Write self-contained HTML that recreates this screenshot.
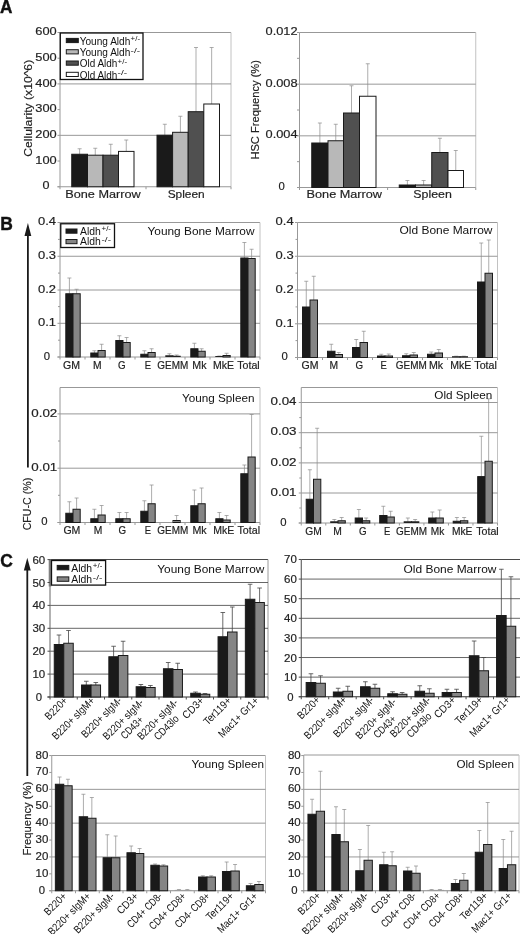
<!DOCTYPE html>
<html><head><meta charset="utf-8"><title>Figure</title>
<style>html,body{margin:0;padding:0;background:#fff;}svg{display:block;will-change:transform;}text{font-family:"Liberation Sans",sans-serif;}</style>
</head><body>
<svg width="520" height="934" viewBox="0 0 520 934">
<rect x="0" y="0" width="520" height="934" fill="#ffffff"/>
<text x="0.00" y="12.80" font-size="18" text-anchor="start" font-weight="bold" fill="#111" textLength="12.40" lengthAdjust="spacingAndGlyphs"  stroke="#111" stroke-width="0.4">A</text>
<text x="0.30" y="229.60" font-size="18" text-anchor="start" font-weight="bold" fill="#111" textLength="12.60" lengthAdjust="spacingAndGlyphs"  stroke="#111" stroke-width="0.4">B</text>
<text x="0.20" y="567.00" font-size="18" text-anchor="start" font-weight="bold" fill="#111" textLength="12.60" lengthAdjust="spacingAndGlyphs"  stroke="#111" stroke-width="0.4">C</text>
<line x1="60.00" y1="32.50" x2="231.00" y2="32.50" stroke="#989898" stroke-width="1" />
<line x1="231.00" y1="32.50" x2="231.00" y2="186.75" stroke="#c2c2c2" stroke-width="1" />
<line x1="60.00" y1="83.92" x2="231.00" y2="83.92" stroke="#989898" stroke-width="1" />
<line x1="60.00" y1="135.33" x2="231.00" y2="135.33" stroke="#989898" stroke-width="1" />
<line x1="60.00" y1="32.50" x2="60.00" y2="186.75" stroke="#989898" stroke-width="1" />
<line x1="57.50" y1="186.75" x2="231.00" y2="186.75" stroke="#989898" stroke-width="1" />
<line x1="57.50" y1="186.75" x2="60.00" y2="186.75" stroke="#989898" stroke-width="1" />
<text x="46.00" y="189.35" font-size="11" text-anchor="middle" font-weight="normal" fill="#222" textLength="7.00" lengthAdjust="spacingAndGlyphs"  stroke="#222" stroke-width="0.18">0</text>
<line x1="57.50" y1="161.04" x2="60.00" y2="161.04" stroke="#989898" stroke-width="1" />
<text x="46.00" y="163.64" font-size="11" text-anchor="middle" font-weight="normal" fill="#222" textLength="21.40" lengthAdjust="spacingAndGlyphs"  stroke="#222" stroke-width="0.18">100</text>
<line x1="57.50" y1="135.33" x2="60.00" y2="135.33" stroke="#989898" stroke-width="1" />
<text x="46.00" y="137.93" font-size="11" text-anchor="middle" font-weight="normal" fill="#222" textLength="21.40" lengthAdjust="spacingAndGlyphs"  stroke="#222" stroke-width="0.18">200</text>
<line x1="57.50" y1="109.62" x2="60.00" y2="109.62" stroke="#989898" stroke-width="1" />
<text x="46.00" y="112.22" font-size="11" text-anchor="middle" font-weight="normal" fill="#222" textLength="21.40" lengthAdjust="spacingAndGlyphs"  stroke="#222" stroke-width="0.18">300</text>
<line x1="57.50" y1="83.92" x2="60.00" y2="83.92" stroke="#989898" stroke-width="1" />
<text x="46.00" y="86.52" font-size="11" text-anchor="middle" font-weight="normal" fill="#222" textLength="21.40" lengthAdjust="spacingAndGlyphs"  stroke="#222" stroke-width="0.18">400</text>
<line x1="57.50" y1="58.21" x2="60.00" y2="58.21" stroke="#989898" stroke-width="1" />
<text x="46.00" y="60.81" font-size="11" text-anchor="middle" font-weight="normal" fill="#222" textLength="21.40" lengthAdjust="spacingAndGlyphs"  stroke="#222" stroke-width="0.18">500</text>
<line x1="57.50" y1="32.50" x2="60.00" y2="32.50" stroke="#989898" stroke-width="1" />
<text x="46.00" y="35.10" font-size="11" text-anchor="middle" font-weight="normal" fill="#222" textLength="21.40" lengthAdjust="spacingAndGlyphs"  stroke="#222" stroke-width="0.18">600</text>
<line x1="60.00" y1="186.75" x2="60.00" y2="189.25" stroke="#989898" stroke-width="1" />
<line x1="146.00" y1="186.75" x2="146.00" y2="189.25" stroke="#989898" stroke-width="1" />
<line x1="231.00" y1="186.75" x2="231.00" y2="189.25" stroke="#989898" stroke-width="1" />
<line x1="79.62" y1="148.75" x2="79.62" y2="154.25" stroke="#8a8a8a" stroke-width="0.7" />
<line x1="77.62" y1="148.75" x2="81.62" y2="148.75" stroke="#8a8a8a" stroke-width="0.7" />
<rect x="71.75" y="154.25" width="15.75" height="32.50" fill="#1a1a1a" stroke="#1a1a1a" stroke-width="1.0"/>
<line x1="95.25" y1="148.25" x2="95.25" y2="155.20" stroke="#8a8a8a" stroke-width="0.7" />
<line x1="93.25" y1="148.25" x2="97.25" y2="148.25" stroke="#8a8a8a" stroke-width="0.7" />
<rect x="87.50" y="155.20" width="15.50" height="31.55" fill="#b8b8b8" stroke="#1a1a1a" stroke-width="1.0"/>
<line x1="110.75" y1="144.25" x2="110.75" y2="155.20" stroke="#8a8a8a" stroke-width="0.7" />
<line x1="108.75" y1="144.25" x2="112.75" y2="144.25" stroke="#8a8a8a" stroke-width="0.7" />
<rect x="103.00" y="155.20" width="15.50" height="31.55" fill="#505050" stroke="#1a1a1a" stroke-width="1.0"/>
<line x1="126.25" y1="140.00" x2="126.25" y2="151.40" stroke="#8a8a8a" stroke-width="0.7" />
<line x1="124.25" y1="140.00" x2="128.25" y2="140.00" stroke="#8a8a8a" stroke-width="0.7" />
<rect x="118.50" y="151.40" width="15.50" height="35.35" fill="#ffffff" stroke="#1a1a1a" stroke-width="1.0"/>
<line x1="164.80" y1="124.25" x2="164.80" y2="135.20" stroke="#8a8a8a" stroke-width="0.7" />
<line x1="162.80" y1="124.25" x2="166.80" y2="124.25" stroke="#8a8a8a" stroke-width="0.7" />
<rect x="157.00" y="135.20" width="15.60" height="51.55" fill="#1a1a1a" stroke="#1a1a1a" stroke-width="1.0"/>
<line x1="180.40" y1="116.25" x2="180.40" y2="132.30" stroke="#8a8a8a" stroke-width="0.7" />
<line x1="178.40" y1="116.25" x2="182.40" y2="116.25" stroke="#8a8a8a" stroke-width="0.7" />
<rect x="172.60" y="132.30" width="15.60" height="54.45" fill="#b8b8b8" stroke="#1a1a1a" stroke-width="1.0"/>
<line x1="196.00" y1="47.50" x2="196.00" y2="111.70" stroke="#8a8a8a" stroke-width="0.7" />
<line x1="194.00" y1="47.50" x2="198.00" y2="47.50" stroke="#8a8a8a" stroke-width="0.7" />
<rect x="188.20" y="111.70" width="15.60" height="75.05" fill="#505050" stroke="#1a1a1a" stroke-width="1.0"/>
<line x1="211.65" y1="47.50" x2="211.65" y2="104.00" stroke="#8a8a8a" stroke-width="0.7" />
<line x1="209.65" y1="47.50" x2="213.65" y2="47.50" stroke="#8a8a8a" stroke-width="0.7" />
<rect x="203.80" y="104.00" width="15.70" height="82.75" fill="#ffffff" stroke="#1a1a1a" stroke-width="1.0"/>
<text x="103.00" y="198.00" font-size="11.4" text-anchor="middle" font-weight="normal" fill="#222" textLength="75.50" lengthAdjust="spacingAndGlyphs"  stroke="#222" stroke-width="0.18">Bone Marrow</text>
<text x="186.20" y="198.00" font-size="11.4" text-anchor="middle" font-weight="normal" fill="#222" textLength="37.00" lengthAdjust="spacingAndGlyphs"  stroke="#222" stroke-width="0.18">Spleen</text>
<text x="31.60" y="156.80" font-size="11.8" text-anchor="start" font-weight="normal" fill="#222" textLength="97.00" lengthAdjust="spacingAndGlyphs" transform="rotate(-90 31.60 156.80)"  stroke="#222" stroke-width="0.18">Cellularity (x10^6)</text>
<rect x="60.30" y="33.00" width="82.70" height="46.50" fill="#ffffff" stroke="#111" stroke-width="1.3"/>
<rect x="66.30" y="38.40" width="12.00" height="4.20" fill="#1a1a1a" stroke="#1a1a1a" stroke-width="1"/>
<text x="79.70" y="44.70" font-size="10.4" text-anchor="start" font-weight="normal" fill="#111" textLength="50.60" lengthAdjust="spacingAndGlyphs" >Young Aldh</text>
<text x="130.60" y="41.30" font-size="6.5" text-anchor="start" font-weight="normal" fill="#111" textLength="9.50" lengthAdjust="spacingAndGlyphs" >+/-</text>
<rect x="66.30" y="49.70" width="12.00" height="4.20" fill="#b8b8b8" stroke="#1a1a1a" stroke-width="1"/>
<text x="79.70" y="56.00" font-size="10.4" text-anchor="start" font-weight="normal" fill="#111" textLength="50.60" lengthAdjust="spacingAndGlyphs" >Young Aldh</text>
<text x="130.60" y="52.60" font-size="6.5" text-anchor="start" font-weight="normal" fill="#111" textLength="9.50" lengthAdjust="spacingAndGlyphs" >-/-</text>
<rect x="66.30" y="61.00" width="12.00" height="4.20" fill="#505050" stroke="#1a1a1a" stroke-width="1"/>
<text x="79.70" y="67.30" font-size="10.4" text-anchor="start" font-weight="normal" fill="#111" textLength="37.60" lengthAdjust="spacingAndGlyphs" >Old Aldh</text>
<text x="117.60" y="63.90" font-size="6.5" text-anchor="start" font-weight="normal" fill="#111" textLength="9.50" lengthAdjust="spacingAndGlyphs" >+/-</text>
<rect x="66.30" y="72.30" width="12.00" height="4.20" fill="#ffffff" stroke="#1a1a1a" stroke-width="1"/>
<text x="79.70" y="78.60" font-size="10.4" text-anchor="start" font-weight="normal" fill="#111" textLength="37.60" lengthAdjust="spacingAndGlyphs" >Old Aldh</text>
<text x="117.60" y="75.20" font-size="6.5" text-anchor="start" font-weight="normal" fill="#111" textLength="9.50" lengthAdjust="spacingAndGlyphs" >-/-</text>
<line x1="299.50" y1="32.50" x2="475.75" y2="32.50" stroke="#989898" stroke-width="1" />
<line x1="475.75" y1="32.50" x2="475.75" y2="187.50" stroke="#c2c2c2" stroke-width="1" />
<line x1="299.50" y1="84.17" x2="475.75" y2="84.17" stroke="#989898" stroke-width="1" />
<line x1="299.50" y1="135.83" x2="475.75" y2="135.83" stroke="#989898" stroke-width="1" />
<line x1="299.50" y1="32.50" x2="299.50" y2="187.50" stroke="#989898" stroke-width="1" />
<line x1="297.00" y1="187.50" x2="475.75" y2="187.50" stroke="#989898" stroke-width="1" />
<line x1="297.00" y1="187.50" x2="299.50" y2="187.50" stroke="#989898" stroke-width="1" />
<line x1="297.00" y1="161.67" x2="299.50" y2="161.67" stroke="#989898" stroke-width="1" />
<line x1="297.00" y1="135.83" x2="299.50" y2="135.83" stroke="#989898" stroke-width="1" />
<line x1="297.00" y1="110.00" x2="299.50" y2="110.00" stroke="#989898" stroke-width="1" />
<line x1="297.00" y1="84.17" x2="299.50" y2="84.17" stroke="#989898" stroke-width="1" />
<line x1="297.00" y1="58.33" x2="299.50" y2="58.33" stroke="#989898" stroke-width="1" />
<line x1="297.00" y1="32.50" x2="299.50" y2="32.50" stroke="#989898" stroke-width="1" />
<text x="281.60" y="35.10" font-size="11" text-anchor="middle" font-weight="normal" fill="#222" textLength="32.00" lengthAdjust="spacingAndGlyphs"  stroke="#222" stroke-width="0.18">0.012</text>
<text x="281.60" y="86.77" font-size="11" text-anchor="middle" font-weight="normal" fill="#222" textLength="32.00" lengthAdjust="spacingAndGlyphs"  stroke="#222" stroke-width="0.18">0.008</text>
<text x="281.60" y="138.43" font-size="11" text-anchor="middle" font-weight="normal" fill="#222" textLength="32.00" lengthAdjust="spacingAndGlyphs"  stroke="#222" stroke-width="0.18">0.004</text>
<text x="281.60" y="190.10" font-size="11" text-anchor="middle" font-weight="normal" fill="#222" textLength="6.30" lengthAdjust="spacingAndGlyphs"  stroke="#222" stroke-width="0.18">0</text>
<line x1="299.50" y1="187.50" x2="299.50" y2="190.00" stroke="#989898" stroke-width="1" />
<line x1="387.60" y1="187.50" x2="387.60" y2="190.00" stroke="#989898" stroke-width="1" />
<line x1="475.75" y1="187.50" x2="475.75" y2="190.00" stroke="#989898" stroke-width="1" />
<line x1="319.88" y1="123.00" x2="319.88" y2="143.00" stroke="#8a8a8a" stroke-width="0.7" />
<line x1="317.88" y1="123.00" x2="321.88" y2="123.00" stroke="#8a8a8a" stroke-width="0.7" />
<rect x="311.75" y="143.00" width="16.25" height="44.50" fill="#1a1a1a" stroke="#1a1a1a" stroke-width="1.0"/>
<line x1="335.75" y1="124.25" x2="335.75" y2="140.75" stroke="#8a8a8a" stroke-width="0.7" />
<line x1="333.75" y1="124.25" x2="337.75" y2="124.25" stroke="#8a8a8a" stroke-width="0.7" />
<rect x="328.00" y="140.75" width="15.50" height="46.75" fill="#b8b8b8" stroke="#1a1a1a" stroke-width="1.0"/>
<line x1="351.50" y1="85.75" x2="351.50" y2="113.00" stroke="#8a8a8a" stroke-width="0.7" />
<line x1="349.50" y1="85.75" x2="353.50" y2="85.75" stroke="#8a8a8a" stroke-width="0.7" />
<rect x="343.50" y="113.00" width="16.00" height="74.50" fill="#505050" stroke="#1a1a1a" stroke-width="1.0"/>
<line x1="367.75" y1="63.75" x2="367.75" y2="96.25" stroke="#8a8a8a" stroke-width="0.7" />
<line x1="365.75" y1="63.75" x2="369.75" y2="63.75" stroke="#8a8a8a" stroke-width="0.7" />
<rect x="359.50" y="96.25" width="16.50" height="91.25" fill="#ffffff" stroke="#1a1a1a" stroke-width="1.0"/>
<line x1="407.38" y1="180.50" x2="407.38" y2="185.00" stroke="#8a8a8a" stroke-width="0.7" />
<line x1="405.38" y1="180.50" x2="409.38" y2="180.50" stroke="#8a8a8a" stroke-width="0.7" />
<rect x="399.25" y="185.00" width="16.25" height="2.50" fill="#1a1a1a" stroke="#1a1a1a" stroke-width="1.0"/>
<line x1="423.62" y1="180.50" x2="423.62" y2="185.00" stroke="#8a8a8a" stroke-width="0.7" />
<line x1="421.62" y1="180.50" x2="425.62" y2="180.50" stroke="#8a8a8a" stroke-width="0.7" />
<rect x="415.50" y="185.00" width="16.25" height="2.50" fill="#b8b8b8" stroke="#1a1a1a" stroke-width="1.0"/>
<line x1="439.88" y1="138.25" x2="439.88" y2="152.50" stroke="#8a8a8a" stroke-width="0.7" />
<line x1="437.88" y1="138.25" x2="441.88" y2="138.25" stroke="#8a8a8a" stroke-width="0.7" />
<rect x="431.75" y="152.50" width="16.25" height="35.00" fill="#505050" stroke="#1a1a1a" stroke-width="1.0"/>
<line x1="455.75" y1="150.50" x2="455.75" y2="170.50" stroke="#8a8a8a" stroke-width="0.7" />
<line x1="453.75" y1="150.50" x2="457.75" y2="150.50" stroke="#8a8a8a" stroke-width="0.7" />
<rect x="448.00" y="170.50" width="15.50" height="17.00" fill="#ffffff" stroke="#1a1a1a" stroke-width="1.0"/>
<text x="344.30" y="198.30" font-size="11.4" text-anchor="middle" font-weight="normal" fill="#222" textLength="75.50" lengthAdjust="spacingAndGlyphs"  stroke="#222" stroke-width="0.18">Bone Marrow</text>
<text x="432.60" y="198.30" font-size="11.4" text-anchor="middle" font-weight="normal" fill="#222" textLength="38.50" lengthAdjust="spacingAndGlyphs"  stroke="#222" stroke-width="0.18">Spleen</text>
<text x="258.80" y="159.60" font-size="11.8" text-anchor="start" font-weight="normal" fill="#222" textLength="99.50" lengthAdjust="spacingAndGlyphs" transform="rotate(-90 258.80 159.60)"  stroke="#222" stroke-width="0.18">HSC Frequency (%)</text>
<line x1="60.00" y1="222.50" x2="260.00" y2="222.50" stroke="#989898" stroke-width="1" />
<line x1="260.00" y1="222.50" x2="260.00" y2="357.00" stroke="#c2c2c2" stroke-width="1" />
<line x1="60.00" y1="256.25" x2="260.00" y2="256.25" stroke="#989898" stroke-width="1" />
<line x1="60.00" y1="290.00" x2="260.00" y2="290.00" stroke="#989898" stroke-width="1" />
<line x1="60.00" y1="323.30" x2="260.00" y2="323.30" stroke="#989898" stroke-width="1" />
<line x1="60.00" y1="222.50" x2="60.00" y2="357.00" stroke="#989898" stroke-width="1" />
<line x1="57.50" y1="357.00" x2="260.00" y2="357.00" stroke="#989898" stroke-width="1" />
<line x1="57.50" y1="222.50" x2="60.00" y2="222.50" stroke="#989898" stroke-width="1" />
<text x="47.00" y="225.20" font-size="11" text-anchor="middle" font-weight="normal" fill="#222" textLength="18.00" lengthAdjust="spacingAndGlyphs"  stroke="#222" stroke-width="0.18">0.4</text>
<line x1="57.50" y1="256.25" x2="60.00" y2="256.25" stroke="#989898" stroke-width="1" />
<text x="47.00" y="258.95" font-size="11" text-anchor="middle" font-weight="normal" fill="#222" textLength="18.00" lengthAdjust="spacingAndGlyphs"  stroke="#222" stroke-width="0.18">0.3</text>
<line x1="57.50" y1="290.00" x2="60.00" y2="290.00" stroke="#989898" stroke-width="1" />
<text x="47.00" y="292.70" font-size="11" text-anchor="middle" font-weight="normal" fill="#222" textLength="18.00" lengthAdjust="spacingAndGlyphs"  stroke="#222" stroke-width="0.18">0.2</text>
<line x1="57.50" y1="323.30" x2="60.00" y2="323.30" stroke="#989898" stroke-width="1" />
<text x="47.00" y="326.00" font-size="11" text-anchor="middle" font-weight="normal" fill="#222" textLength="18.00" lengthAdjust="spacingAndGlyphs"  stroke="#222" stroke-width="0.18">0.1</text>
<line x1="57.50" y1="357.00" x2="60.00" y2="357.00" stroke="#989898" stroke-width="1" />
<text x="47.00" y="359.70" font-size="11" text-anchor="middle" font-weight="normal" fill="#222" textLength="6.30" lengthAdjust="spacingAndGlyphs"  stroke="#222" stroke-width="0.18">0</text>
<line x1="58.00" y1="239.40" x2="60.00" y2="239.40" stroke="#989898" stroke-width="1" />
<line x1="58.00" y1="273.10" x2="60.00" y2="273.10" stroke="#989898" stroke-width="1" />
<line x1="58.00" y1="306.60" x2="60.00" y2="306.60" stroke="#989898" stroke-width="1" />
<line x1="58.00" y1="340.20" x2="60.00" y2="340.20" stroke="#989898" stroke-width="1" />
<line x1="60.00" y1="357.00" x2="60.00" y2="359.50" stroke="#989898" stroke-width="1" />
<line x1="85.00" y1="357.00" x2="85.00" y2="359.50" stroke="#989898" stroke-width="1" />
<line x1="110.00" y1="357.00" x2="110.00" y2="359.50" stroke="#989898" stroke-width="1" />
<line x1="135.00" y1="357.00" x2="135.00" y2="359.50" stroke="#989898" stroke-width="1" />
<line x1="160.00" y1="357.00" x2="160.00" y2="359.50" stroke="#989898" stroke-width="1" />
<line x1="185.00" y1="357.00" x2="185.00" y2="359.50" stroke="#989898" stroke-width="1" />
<line x1="210.00" y1="357.00" x2="210.00" y2="359.50" stroke="#989898" stroke-width="1" />
<line x1="235.00" y1="357.00" x2="235.00" y2="359.50" stroke="#989898" stroke-width="1" />
<line x1="260.00" y1="357.00" x2="260.00" y2="359.50" stroke="#989898" stroke-width="1" />
<line x1="69.40" y1="278.00" x2="69.40" y2="293.75" stroke="#8a8a8a" stroke-width="0.7" />
<line x1="67.40" y1="278.00" x2="71.40" y2="278.00" stroke="#8a8a8a" stroke-width="0.7" />
<rect x="65.80" y="293.75" width="7.20" height="63.25" fill="#1a1a1a" stroke="#1a1a1a" stroke-width="1.0"/>
<line x1="76.60" y1="289.25" x2="76.60" y2="293.75" stroke="#8a8a8a" stroke-width="0.7" />
<line x1="74.60" y1="289.25" x2="78.60" y2="289.25" stroke="#8a8a8a" stroke-width="0.7" />
<rect x="73.00" y="293.75" width="7.20" height="63.25" fill="#858585" stroke="#1a1a1a" stroke-width="1.0"/>
<line x1="94.40" y1="350.75" x2="94.40" y2="353.00" stroke="#8a8a8a" stroke-width="0.7" />
<line x1="92.40" y1="350.75" x2="96.40" y2="350.75" stroke="#8a8a8a" stroke-width="0.7" />
<rect x="90.80" y="353.00" width="7.20" height="4.00" fill="#1a1a1a" stroke="#1a1a1a" stroke-width="1.0"/>
<line x1="101.60" y1="344.25" x2="101.60" y2="350.50" stroke="#8a8a8a" stroke-width="0.7" />
<line x1="99.60" y1="344.25" x2="103.60" y2="344.25" stroke="#8a8a8a" stroke-width="0.7" />
<rect x="98.00" y="350.50" width="7.20" height="6.50" fill="#858585" stroke="#1a1a1a" stroke-width="1.0"/>
<line x1="119.40" y1="335.75" x2="119.40" y2="340.50" stroke="#8a8a8a" stroke-width="0.7" />
<line x1="117.40" y1="335.75" x2="121.40" y2="335.75" stroke="#8a8a8a" stroke-width="0.7" />
<rect x="115.80" y="340.50" width="7.20" height="16.50" fill="#1a1a1a" stroke="#1a1a1a" stroke-width="1.0"/>
<line x1="126.60" y1="337.50" x2="126.60" y2="342.50" stroke="#8a8a8a" stroke-width="0.7" />
<line x1="124.60" y1="337.50" x2="128.60" y2="337.50" stroke="#8a8a8a" stroke-width="0.7" />
<rect x="123.00" y="342.50" width="7.20" height="14.50" fill="#858585" stroke="#1a1a1a" stroke-width="1.0"/>
<line x1="144.40" y1="350.75" x2="144.40" y2="354.25" stroke="#8a8a8a" stroke-width="0.7" />
<line x1="142.40" y1="350.75" x2="146.40" y2="350.75" stroke="#8a8a8a" stroke-width="0.7" />
<rect x="140.80" y="354.25" width="7.20" height="2.75" fill="#1a1a1a" stroke="#1a1a1a" stroke-width="1.0"/>
<line x1="151.60" y1="348.75" x2="151.60" y2="352.50" stroke="#8a8a8a" stroke-width="0.7" />
<line x1="149.60" y1="348.75" x2="153.60" y2="348.75" stroke="#8a8a8a" stroke-width="0.7" />
<rect x="148.00" y="352.50" width="7.20" height="4.50" fill="#858585" stroke="#1a1a1a" stroke-width="1.0"/>
<line x1="169.40" y1="353.75" x2="169.40" y2="355.75" stroke="#8a8a8a" stroke-width="0.7" />
<line x1="167.40" y1="353.75" x2="171.40" y2="353.75" stroke="#8a8a8a" stroke-width="0.7" />
<rect x="165.30" y="355.25" width="8.20" height="1.75" fill="#222"/>
<line x1="176.60" y1="355.00" x2="176.60" y2="356.25" stroke="#8a8a8a" stroke-width="0.7" />
<line x1="174.60" y1="355.00" x2="178.60" y2="355.00" stroke="#8a8a8a" stroke-width="0.7" />
<rect x="172.50" y="355.75" width="8.20" height="1.25" fill="#222"/>
<line x1="194.40" y1="343.25" x2="194.40" y2="348.75" stroke="#8a8a8a" stroke-width="0.7" />
<line x1="192.40" y1="343.25" x2="196.40" y2="343.25" stroke="#8a8a8a" stroke-width="0.7" />
<rect x="190.80" y="348.75" width="7.20" height="8.25" fill="#1a1a1a" stroke="#1a1a1a" stroke-width="1.0"/>
<line x1="201.60" y1="348.75" x2="201.60" y2="351.25" stroke="#8a8a8a" stroke-width="0.7" />
<line x1="199.60" y1="348.75" x2="203.60" y2="348.75" stroke="#8a8a8a" stroke-width="0.7" />
<rect x="198.00" y="351.25" width="7.20" height="5.75" fill="#858585" stroke="#1a1a1a" stroke-width="1.0"/>
<line x1="219.40" y1="356.00" x2="219.40" y2="356.50" stroke="#8a8a8a" stroke-width="0.7" />
<line x1="217.40" y1="356.00" x2="221.40" y2="356.00" stroke="#8a8a8a" stroke-width="0.7" />
<rect x="215.30" y="356.00" width="8.20" height="1.00" fill="#222"/>
<line x1="226.60" y1="353.25" x2="226.60" y2="355.50" stroke="#8a8a8a" stroke-width="0.7" />
<line x1="224.60" y1="353.25" x2="228.60" y2="353.25" stroke="#8a8a8a" stroke-width="0.7" />
<rect x="223.00" y="355.50" width="7.20" height="1.50" fill="#858585" stroke="#1a1a1a" stroke-width="1.0"/>
<line x1="244.40" y1="242.50" x2="244.40" y2="258.00" stroke="#8a8a8a" stroke-width="0.7" />
<line x1="242.40" y1="242.50" x2="246.40" y2="242.50" stroke="#8a8a8a" stroke-width="0.7" />
<rect x="240.80" y="258.00" width="7.20" height="99.00" fill="#1a1a1a" stroke="#1a1a1a" stroke-width="1.0"/>
<line x1="251.60" y1="249.25" x2="251.60" y2="258.50" stroke="#8a8a8a" stroke-width="0.7" />
<line x1="249.60" y1="249.25" x2="253.60" y2="249.25" stroke="#8a8a8a" stroke-width="0.7" />
<rect x="248.00" y="258.50" width="7.20" height="98.50" fill="#858585" stroke="#1a1a1a" stroke-width="1.0"/>
<text x="71.50" y="368.60" font-size="10.2" text-anchor="middle" font-weight="normal" fill="#222" textLength="17.00" lengthAdjust="spacingAndGlyphs"  stroke="#222" stroke-width="0.18">GM</text>
<text x="97.30" y="368.60" font-size="10.2" text-anchor="middle" font-weight="normal" fill="#222" textLength="8.60" lengthAdjust="spacingAndGlyphs"  stroke="#222" stroke-width="0.18">M</text>
<text x="121.70" y="368.60" font-size="10.2" text-anchor="middle" font-weight="normal" fill="#222" textLength="7.60" lengthAdjust="spacingAndGlyphs"  stroke="#222" stroke-width="0.18">G</text>
<text x="147.80" y="368.60" font-size="10.2" text-anchor="middle" font-weight="normal" fill="#222" textLength="6.30" lengthAdjust="spacingAndGlyphs"  stroke="#222" stroke-width="0.18">E</text>
<text x="172.80" y="368.60" font-size="10.2" text-anchor="middle" font-weight="normal" fill="#222" textLength="31.00" lengthAdjust="spacingAndGlyphs"  stroke="#222" stroke-width="0.18">GEMM</text>
<text x="199.40" y="368.60" font-size="10.2" text-anchor="middle" font-weight="normal" fill="#222" textLength="14.20" lengthAdjust="spacingAndGlyphs"  stroke="#222" stroke-width="0.18">Mk</text>
<text x="223.50" y="368.60" font-size="10.2" text-anchor="middle" font-weight="normal" fill="#222" textLength="21.00" lengthAdjust="spacingAndGlyphs"  stroke="#222" stroke-width="0.18">MkE</text>
<text x="248.50" y="368.60" font-size="10.2" text-anchor="middle" font-weight="normal" fill="#222" textLength="22.50" lengthAdjust="spacingAndGlyphs"  stroke="#222" stroke-width="0.18">Total</text>
<text x="254.50" y="234.50" font-size="11.5" text-anchor="end" font-weight="normal" fill="#111" textLength="107.00" lengthAdjust="spacingAndGlyphs" >Young Bone Marrow</text>
<rect x="60.75" y="223.75" width="53.75" height="23.75" fill="#ffffff" stroke="#111" stroke-width="1.3"/>
<rect x="66.00" y="229.00" width="11.00" height="4.20" fill="#1a1a1a" stroke="#1a1a1a" stroke-width="1"/>
<rect x="66.00" y="239.50" width="11.00" height="4.20" fill="#858585" stroke="#1a1a1a" stroke-width="1"/>
<text x="80.00" y="234.60" font-size="10.4" text-anchor="start" font-weight="normal" fill="#111" textLength="20.80" lengthAdjust="spacingAndGlyphs" >Aldh</text>
<text x="101.50" y="231.20" font-size="6.5" text-anchor="start" font-weight="normal" fill="#111" textLength="9.50" lengthAdjust="spacingAndGlyphs" >+/-</text>
<text x="80.00" y="245.10" font-size="10.4" text-anchor="start" font-weight="normal" fill="#111" textLength="20.80" lengthAdjust="spacingAndGlyphs" >Aldh</text>
<text x="101.50" y="241.70" font-size="6.5" text-anchor="start" font-weight="normal" fill="#111" textLength="9.50" lengthAdjust="spacingAndGlyphs" >-/-</text>
<line x1="297.50" y1="222.50" x2="497.50" y2="222.50" stroke="#989898" stroke-width="1" />
<line x1="497.50" y1="222.50" x2="497.50" y2="357.50" stroke="#c2c2c2" stroke-width="1" />
<line x1="297.50" y1="256.25" x2="497.50" y2="256.25" stroke="#989898" stroke-width="1" />
<line x1="297.50" y1="290.00" x2="497.50" y2="290.00" stroke="#989898" stroke-width="1" />
<line x1="297.50" y1="323.80" x2="497.50" y2="323.80" stroke="#989898" stroke-width="1" />
<line x1="297.50" y1="222.50" x2="297.50" y2="357.50" stroke="#989898" stroke-width="1" />
<line x1="295.00" y1="357.50" x2="497.50" y2="357.50" stroke="#989898" stroke-width="1" />
<line x1="295.00" y1="222.50" x2="297.50" y2="222.50" stroke="#989898" stroke-width="1" />
<text x="284.60" y="225.20" font-size="11" text-anchor="middle" font-weight="normal" fill="#222" textLength="18.00" lengthAdjust="spacingAndGlyphs"  stroke="#222" stroke-width="0.18">0.4</text>
<line x1="295.00" y1="256.25" x2="297.50" y2="256.25" stroke="#989898" stroke-width="1" />
<text x="284.60" y="258.95" font-size="11" text-anchor="middle" font-weight="normal" fill="#222" textLength="18.00" lengthAdjust="spacingAndGlyphs"  stroke="#222" stroke-width="0.18">0.3</text>
<line x1="295.00" y1="290.00" x2="297.50" y2="290.00" stroke="#989898" stroke-width="1" />
<text x="284.60" y="292.70" font-size="11" text-anchor="middle" font-weight="normal" fill="#222" textLength="18.00" lengthAdjust="spacingAndGlyphs"  stroke="#222" stroke-width="0.18">0.2</text>
<line x1="295.00" y1="323.80" x2="297.50" y2="323.80" stroke="#989898" stroke-width="1" />
<text x="284.60" y="326.50" font-size="11" text-anchor="middle" font-weight="normal" fill="#222" textLength="18.00" lengthAdjust="spacingAndGlyphs"  stroke="#222" stroke-width="0.18">0.1</text>
<line x1="295.00" y1="357.50" x2="297.50" y2="357.50" stroke="#989898" stroke-width="1" />
<text x="284.60" y="360.20" font-size="11" text-anchor="middle" font-weight="normal" fill="#222" textLength="6.30" lengthAdjust="spacingAndGlyphs"  stroke="#222" stroke-width="0.18">0</text>
<line x1="295.50" y1="239.40" x2="297.50" y2="239.40" stroke="#989898" stroke-width="1" />
<line x1="295.50" y1="273.10" x2="297.50" y2="273.10" stroke="#989898" stroke-width="1" />
<line x1="295.50" y1="306.90" x2="297.50" y2="306.90" stroke="#989898" stroke-width="1" />
<line x1="295.50" y1="340.60" x2="297.50" y2="340.60" stroke="#989898" stroke-width="1" />
<line x1="297.50" y1="357.50" x2="297.50" y2="360.00" stroke="#989898" stroke-width="1" />
<line x1="322.50" y1="357.50" x2="322.50" y2="360.00" stroke="#989898" stroke-width="1" />
<line x1="347.50" y1="357.50" x2="347.50" y2="360.00" stroke="#989898" stroke-width="1" />
<line x1="372.50" y1="357.50" x2="372.50" y2="360.00" stroke="#989898" stroke-width="1" />
<line x1="397.50" y1="357.50" x2="397.50" y2="360.00" stroke="#989898" stroke-width="1" />
<line x1="422.50" y1="357.50" x2="422.50" y2="360.00" stroke="#989898" stroke-width="1" />
<line x1="447.50" y1="357.50" x2="447.50" y2="360.00" stroke="#989898" stroke-width="1" />
<line x1="472.50" y1="357.50" x2="472.50" y2="360.00" stroke="#989898" stroke-width="1" />
<line x1="497.50" y1="357.50" x2="497.50" y2="360.00" stroke="#989898" stroke-width="1" />
<line x1="306.25" y1="281.25" x2="306.25" y2="307.00" stroke="#8a8a8a" stroke-width="0.7" />
<line x1="304.25" y1="281.25" x2="308.25" y2="281.25" stroke="#8a8a8a" stroke-width="0.7" />
<rect x="302.50" y="307.00" width="7.50" height="50.50" fill="#1a1a1a" stroke="#1a1a1a" stroke-width="1.0"/>
<line x1="313.75" y1="276.25" x2="313.75" y2="300.00" stroke="#8a8a8a" stroke-width="0.7" />
<line x1="311.75" y1="276.25" x2="315.75" y2="276.25" stroke="#8a8a8a" stroke-width="0.7" />
<rect x="310.00" y="300.00" width="7.50" height="57.50" fill="#858585" stroke="#1a1a1a" stroke-width="1.0"/>
<line x1="331.25" y1="344.25" x2="331.25" y2="351.25" stroke="#8a8a8a" stroke-width="0.7" />
<line x1="329.25" y1="344.25" x2="333.25" y2="344.25" stroke="#8a8a8a" stroke-width="0.7" />
<rect x="327.50" y="351.25" width="7.50" height="6.25" fill="#1a1a1a" stroke="#1a1a1a" stroke-width="1.0"/>
<line x1="338.75" y1="352.50" x2="338.75" y2="354.50" stroke="#8a8a8a" stroke-width="0.7" />
<line x1="336.75" y1="352.50" x2="340.75" y2="352.50" stroke="#8a8a8a" stroke-width="0.7" />
<rect x="335.00" y="354.50" width="7.50" height="3.00" fill="#858585" stroke="#1a1a1a" stroke-width="1.0"/>
<line x1="356.25" y1="339.50" x2="356.25" y2="347.50" stroke="#8a8a8a" stroke-width="0.7" />
<line x1="354.25" y1="339.50" x2="358.25" y2="339.50" stroke="#8a8a8a" stroke-width="0.7" />
<rect x="352.50" y="347.50" width="7.50" height="10.00" fill="#1a1a1a" stroke="#1a1a1a" stroke-width="1.0"/>
<line x1="363.75" y1="331.25" x2="363.75" y2="342.50" stroke="#8a8a8a" stroke-width="0.7" />
<line x1="361.75" y1="331.25" x2="365.75" y2="331.25" stroke="#8a8a8a" stroke-width="0.7" />
<rect x="360.00" y="342.50" width="7.50" height="15.00" fill="#858585" stroke="#1a1a1a" stroke-width="1.0"/>
<line x1="381.25" y1="354.25" x2="381.25" y2="356.00" stroke="#8a8a8a" stroke-width="0.7" />
<line x1="379.25" y1="354.25" x2="383.25" y2="354.25" stroke="#8a8a8a" stroke-width="0.7" />
<rect x="377.50" y="356.00" width="7.50" height="1.50" fill="#1a1a1a" stroke="#1a1a1a" stroke-width="1.0"/>
<line x1="388.75" y1="354.00" x2="388.75" y2="356.00" stroke="#8a8a8a" stroke-width="0.7" />
<line x1="386.75" y1="354.00" x2="390.75" y2="354.00" stroke="#8a8a8a" stroke-width="0.7" />
<rect x="385.00" y="356.00" width="7.50" height="1.50" fill="#858585" stroke="#1a1a1a" stroke-width="1.0"/>
<line x1="406.25" y1="353.75" x2="406.25" y2="355.75" stroke="#8a8a8a" stroke-width="0.7" />
<line x1="404.25" y1="353.75" x2="408.25" y2="353.75" stroke="#8a8a8a" stroke-width="0.7" />
<rect x="402.50" y="355.75" width="7.50" height="1.75" fill="#1a1a1a" stroke="#1a1a1a" stroke-width="1.0"/>
<line x1="413.75" y1="352.50" x2="413.75" y2="355.00" stroke="#8a8a8a" stroke-width="0.7" />
<line x1="411.75" y1="352.50" x2="415.75" y2="352.50" stroke="#8a8a8a" stroke-width="0.7" />
<rect x="410.00" y="355.00" width="7.50" height="2.50" fill="#858585" stroke="#1a1a1a" stroke-width="1.0"/>
<line x1="431.25" y1="352.00" x2="431.25" y2="354.25" stroke="#8a8a8a" stroke-width="0.7" />
<line x1="429.25" y1="352.00" x2="433.25" y2="352.00" stroke="#8a8a8a" stroke-width="0.7" />
<rect x="427.50" y="354.25" width="7.50" height="3.25" fill="#1a1a1a" stroke="#1a1a1a" stroke-width="1.0"/>
<line x1="438.75" y1="349.50" x2="438.75" y2="353.00" stroke="#8a8a8a" stroke-width="0.7" />
<line x1="436.75" y1="349.50" x2="440.75" y2="349.50" stroke="#8a8a8a" stroke-width="0.7" />
<rect x="435.00" y="353.00" width="7.50" height="4.50" fill="#858585" stroke="#1a1a1a" stroke-width="1.0"/>
<line x1="456.25" y1="356.20" x2="456.25" y2="356.70" stroke="#8a8a8a" stroke-width="0.7" />
<line x1="454.25" y1="356.20" x2="458.25" y2="356.20" stroke="#8a8a8a" stroke-width="0.7" />
<rect x="452.00" y="356.20" width="8.50" height="1.30" fill="#222"/>
<line x1="463.75" y1="356.20" x2="463.75" y2="356.70" stroke="#8a8a8a" stroke-width="0.7" />
<line x1="461.75" y1="356.20" x2="465.75" y2="356.20" stroke="#8a8a8a" stroke-width="0.7" />
<rect x="459.50" y="356.20" width="8.50" height="1.30" fill="#222"/>
<line x1="481.25" y1="243.00" x2="481.25" y2="282.00" stroke="#8a8a8a" stroke-width="0.7" />
<line x1="479.25" y1="243.00" x2="483.25" y2="243.00" stroke="#8a8a8a" stroke-width="0.7" />
<rect x="477.50" y="282.00" width="7.50" height="75.50" fill="#1a1a1a" stroke="#1a1a1a" stroke-width="1.0"/>
<line x1="488.75" y1="240.00" x2="488.75" y2="273.25" stroke="#8a8a8a" stroke-width="0.7" />
<line x1="486.75" y1="240.00" x2="490.75" y2="240.00" stroke="#8a8a8a" stroke-width="0.7" />
<rect x="485.00" y="273.25" width="7.50" height="84.25" fill="#858585" stroke="#1a1a1a" stroke-width="1.0"/>
<text x="310.00" y="368.60" font-size="10.2" text-anchor="middle" font-weight="normal" fill="#222" textLength="17.00" lengthAdjust="spacingAndGlyphs"  stroke="#222" stroke-width="0.18">GM</text>
<text x="333.70" y="368.60" font-size="10.2" text-anchor="middle" font-weight="normal" fill="#222" textLength="8.60" lengthAdjust="spacingAndGlyphs"  stroke="#222" stroke-width="0.18">M</text>
<text x="359.20" y="368.60" font-size="10.2" text-anchor="middle" font-weight="normal" fill="#222" textLength="7.60" lengthAdjust="spacingAndGlyphs"  stroke="#222" stroke-width="0.18">G</text>
<text x="383.70" y="368.60" font-size="10.2" text-anchor="middle" font-weight="normal" fill="#222" textLength="6.30" lengthAdjust="spacingAndGlyphs"  stroke="#222" stroke-width="0.18">E</text>
<text x="411.30" y="368.60" font-size="10.2" text-anchor="middle" font-weight="normal" fill="#222" textLength="31.00" lengthAdjust="spacingAndGlyphs"  stroke="#222" stroke-width="0.18">GEMM</text>
<text x="436.00" y="368.60" font-size="10.2" text-anchor="middle" font-weight="normal" fill="#222" textLength="14.20" lengthAdjust="spacingAndGlyphs"  stroke="#222" stroke-width="0.18">Mk</text>
<text x="460.70" y="368.60" font-size="10.2" text-anchor="middle" font-weight="normal" fill="#222" textLength="21.00" lengthAdjust="spacingAndGlyphs"  stroke="#222" stroke-width="0.18">MkE</text>
<text x="485.60" y="368.60" font-size="10.2" text-anchor="middle" font-weight="normal" fill="#222" textLength="22.50" lengthAdjust="spacingAndGlyphs"  stroke="#222" stroke-width="0.18">Total</text>
<text x="492.50" y="234.30" font-size="11.5" text-anchor="end" font-weight="normal" fill="#111" textLength="93.00" lengthAdjust="spacingAndGlyphs" >Old Bone Marrow</text>
<line x1="60.00" y1="387.50" x2="260.00" y2="387.50" stroke="#989898" stroke-width="1" />
<line x1="260.00" y1="387.50" x2="260.00" y2="522.50" stroke="#c2c2c2" stroke-width="1" />
<line x1="60.00" y1="413.90" x2="260.00" y2="413.90" stroke="#989898" stroke-width="1" />
<line x1="60.00" y1="468.20" x2="260.00" y2="468.20" stroke="#989898" stroke-width="1" />
<line x1="60.00" y1="387.50" x2="60.00" y2="522.50" stroke="#989898" stroke-width="1" />
<line x1="57.50" y1="522.50" x2="260.00" y2="522.50" stroke="#989898" stroke-width="1" />
<line x1="57.50" y1="413.90" x2="60.00" y2="413.90" stroke="#989898" stroke-width="1" />
<text x="44.30" y="416.60" font-size="11" text-anchor="middle" font-weight="normal" fill="#222" textLength="26.00" lengthAdjust="spacingAndGlyphs"  stroke="#222" stroke-width="0.18">0.02</text>
<line x1="57.50" y1="468.20" x2="60.00" y2="468.20" stroke="#989898" stroke-width="1" />
<text x="44.30" y="470.90" font-size="11" text-anchor="middle" font-weight="normal" fill="#222" textLength="26.00" lengthAdjust="spacingAndGlyphs"  stroke="#222" stroke-width="0.18">0.01</text>
<line x1="57.50" y1="522.50" x2="60.00" y2="522.50" stroke="#989898" stroke-width="1" />
<text x="44.30" y="525.20" font-size="11" text-anchor="middle" font-weight="normal" fill="#222" textLength="6.30" lengthAdjust="spacingAndGlyphs"  stroke="#222" stroke-width="0.18">0</text>
<line x1="58.00" y1="441.00" x2="60.00" y2="441.00" stroke="#989898" stroke-width="1" />
<line x1="58.00" y1="495.30" x2="60.00" y2="495.30" stroke="#989898" stroke-width="1" />
<line x1="60.00" y1="522.50" x2="60.00" y2="525.00" stroke="#989898" stroke-width="1" />
<line x1="85.00" y1="522.50" x2="85.00" y2="525.00" stroke="#989898" stroke-width="1" />
<line x1="110.00" y1="522.50" x2="110.00" y2="525.00" stroke="#989898" stroke-width="1" />
<line x1="135.00" y1="522.50" x2="135.00" y2="525.00" stroke="#989898" stroke-width="1" />
<line x1="160.00" y1="522.50" x2="160.00" y2="525.00" stroke="#989898" stroke-width="1" />
<line x1="185.00" y1="522.50" x2="185.00" y2="525.00" stroke="#989898" stroke-width="1" />
<line x1="210.00" y1="522.50" x2="210.00" y2="525.00" stroke="#989898" stroke-width="1" />
<line x1="235.00" y1="522.50" x2="235.00" y2="525.00" stroke="#989898" stroke-width="1" />
<line x1="260.00" y1="522.50" x2="260.00" y2="525.00" stroke="#989898" stroke-width="1" />
<line x1="69.40" y1="501.75" x2="69.40" y2="513.25" stroke="#8a8a8a" stroke-width="0.7" />
<line x1="67.40" y1="501.75" x2="71.40" y2="501.75" stroke="#8a8a8a" stroke-width="0.7" />
<rect x="65.80" y="513.25" width="7.20" height="9.25" fill="#1a1a1a" stroke="#1a1a1a" stroke-width="1.0"/>
<line x1="76.60" y1="498.00" x2="76.60" y2="509.25" stroke="#8a8a8a" stroke-width="0.7" />
<line x1="74.60" y1="498.00" x2="78.60" y2="498.00" stroke="#8a8a8a" stroke-width="0.7" />
<rect x="73.00" y="509.25" width="7.20" height="13.25" fill="#858585" stroke="#1a1a1a" stroke-width="1.0"/>
<line x1="94.40" y1="509.25" x2="94.40" y2="518.75" stroke="#8a8a8a" stroke-width="0.7" />
<line x1="92.40" y1="509.25" x2="96.40" y2="509.25" stroke="#8a8a8a" stroke-width="0.7" />
<rect x="90.80" y="518.75" width="7.20" height="3.75" fill="#1a1a1a" stroke="#1a1a1a" stroke-width="1.0"/>
<line x1="101.60" y1="505.50" x2="101.60" y2="515.00" stroke="#8a8a8a" stroke-width="0.7" />
<line x1="99.60" y1="505.50" x2="103.60" y2="505.50" stroke="#8a8a8a" stroke-width="0.7" />
<rect x="98.00" y="515.00" width="7.20" height="7.50" fill="#858585" stroke="#1a1a1a" stroke-width="1.0"/>
<line x1="119.40" y1="512.50" x2="119.40" y2="518.75" stroke="#8a8a8a" stroke-width="0.7" />
<line x1="117.40" y1="512.50" x2="121.40" y2="512.50" stroke="#8a8a8a" stroke-width="0.7" />
<rect x="115.80" y="518.75" width="7.20" height="3.75" fill="#1a1a1a" stroke="#1a1a1a" stroke-width="1.0"/>
<line x1="126.60" y1="512.50" x2="126.60" y2="518.75" stroke="#8a8a8a" stroke-width="0.7" />
<line x1="124.60" y1="512.50" x2="128.60" y2="512.50" stroke="#8a8a8a" stroke-width="0.7" />
<rect x="123.00" y="518.75" width="7.20" height="3.75" fill="#858585" stroke="#1a1a1a" stroke-width="1.0"/>
<line x1="144.40" y1="500.75" x2="144.40" y2="511.25" stroke="#8a8a8a" stroke-width="0.7" />
<line x1="142.40" y1="500.75" x2="146.40" y2="500.75" stroke="#8a8a8a" stroke-width="0.7" />
<rect x="140.80" y="511.25" width="7.20" height="11.25" fill="#1a1a1a" stroke="#1a1a1a" stroke-width="1.0"/>
<line x1="151.60" y1="485.00" x2="151.60" y2="503.75" stroke="#8a8a8a" stroke-width="0.7" />
<line x1="149.60" y1="485.00" x2="153.60" y2="485.00" stroke="#8a8a8a" stroke-width="0.7" />
<rect x="148.00" y="503.75" width="7.20" height="18.75" fill="#858585" stroke="#1a1a1a" stroke-width="1.0"/>
<line x1="176.60" y1="515.50" x2="176.60" y2="520.50" stroke="#8a8a8a" stroke-width="0.7" />
<line x1="174.60" y1="515.50" x2="178.60" y2="515.50" stroke="#8a8a8a" stroke-width="0.7" />
<rect x="173.00" y="520.50" width="7.20" height="2.00" fill="#858585" stroke="#1a1a1a" stroke-width="1.0"/>
<line x1="194.40" y1="490.00" x2="194.40" y2="505.75" stroke="#8a8a8a" stroke-width="0.7" />
<line x1="192.40" y1="490.00" x2="196.40" y2="490.00" stroke="#8a8a8a" stroke-width="0.7" />
<rect x="190.80" y="505.75" width="7.20" height="16.75" fill="#1a1a1a" stroke="#1a1a1a" stroke-width="1.0"/>
<line x1="201.60" y1="488.00" x2="201.60" y2="503.75" stroke="#8a8a8a" stroke-width="0.7" />
<line x1="199.60" y1="488.00" x2="203.60" y2="488.00" stroke="#8a8a8a" stroke-width="0.7" />
<rect x="198.00" y="503.75" width="7.20" height="18.75" fill="#858585" stroke="#1a1a1a" stroke-width="1.0"/>
<line x1="219.40" y1="512.50" x2="219.40" y2="518.75" stroke="#8a8a8a" stroke-width="0.7" />
<line x1="217.40" y1="512.50" x2="221.40" y2="512.50" stroke="#8a8a8a" stroke-width="0.7" />
<rect x="215.80" y="518.75" width="7.20" height="3.75" fill="#1a1a1a" stroke="#1a1a1a" stroke-width="1.0"/>
<line x1="226.60" y1="515.50" x2="226.60" y2="520.00" stroke="#8a8a8a" stroke-width="0.7" />
<line x1="224.60" y1="515.50" x2="228.60" y2="515.50" stroke="#8a8a8a" stroke-width="0.7" />
<rect x="223.00" y="520.00" width="7.20" height="2.50" fill="#858585" stroke="#1a1a1a" stroke-width="1.0"/>
<line x1="244.40" y1="465.00" x2="244.40" y2="473.75" stroke="#8a8a8a" stroke-width="0.7" />
<line x1="242.40" y1="465.00" x2="246.40" y2="465.00" stroke="#8a8a8a" stroke-width="0.7" />
<rect x="240.80" y="473.75" width="7.20" height="48.75" fill="#1a1a1a" stroke="#1a1a1a" stroke-width="1.0"/>
<line x1="251.60" y1="414.50" x2="251.60" y2="457.00" stroke="#8a8a8a" stroke-width="0.7" />
<line x1="249.60" y1="414.50" x2="253.60" y2="414.50" stroke="#8a8a8a" stroke-width="0.7" />
<rect x="248.00" y="457.00" width="7.20" height="65.50" fill="#858585" stroke="#1a1a1a" stroke-width="1.0"/>
<text x="71.90" y="534.40" font-size="10.2" text-anchor="middle" font-weight="normal" fill="#222" textLength="17.00" lengthAdjust="spacingAndGlyphs"  stroke="#222" stroke-width="0.18">GM</text>
<text x="98.10" y="534.40" font-size="10.2" text-anchor="middle" font-weight="normal" fill="#222" textLength="8.60" lengthAdjust="spacingAndGlyphs"  stroke="#222" stroke-width="0.18">M</text>
<text x="122.20" y="534.40" font-size="10.2" text-anchor="middle" font-weight="normal" fill="#222" textLength="7.60" lengthAdjust="spacingAndGlyphs"  stroke="#222" stroke-width="0.18">G</text>
<text x="148.00" y="534.40" font-size="10.2" text-anchor="middle" font-weight="normal" fill="#222" textLength="6.30" lengthAdjust="spacingAndGlyphs"  stroke="#222" stroke-width="0.18">E</text>
<text x="172.80" y="534.40" font-size="10.2" text-anchor="middle" font-weight="normal" fill="#222" textLength="31.00" lengthAdjust="spacingAndGlyphs"  stroke="#222" stroke-width="0.18">GEMM</text>
<text x="199.60" y="534.40" font-size="10.2" text-anchor="middle" font-weight="normal" fill="#222" textLength="14.20" lengthAdjust="spacingAndGlyphs"  stroke="#222" stroke-width="0.18">Mk</text>
<text x="223.80" y="534.40" font-size="10.2" text-anchor="middle" font-weight="normal" fill="#222" textLength="21.00" lengthAdjust="spacingAndGlyphs"  stroke="#222" stroke-width="0.18">MkE</text>
<text x="248.80" y="534.40" font-size="10.2" text-anchor="middle" font-weight="normal" fill="#222" textLength="22.50" lengthAdjust="spacingAndGlyphs"  stroke="#222" stroke-width="0.18">Total</text>
<text x="254.50" y="402.00" font-size="11.5" text-anchor="end" font-weight="normal" fill="#111" textLength="72.50" lengthAdjust="spacingAndGlyphs" >Young Spleen</text>
<line x1="301.25" y1="387.50" x2="497.50" y2="387.50" stroke="#989898" stroke-width="1" />
<line x1="497.50" y1="387.50" x2="497.50" y2="523.00" stroke="#c2c2c2" stroke-width="1" />
<line x1="301.25" y1="402.50" x2="497.50" y2="402.50" stroke="#989898" stroke-width="1" />
<line x1="301.25" y1="432.70" x2="497.50" y2="432.70" stroke="#989898" stroke-width="1" />
<line x1="301.25" y1="462.90" x2="497.50" y2="462.90" stroke="#989898" stroke-width="1" />
<line x1="301.25" y1="493.00" x2="497.50" y2="493.00" stroke="#989898" stroke-width="1" />
<line x1="301.25" y1="387.50" x2="301.25" y2="523.00" stroke="#989898" stroke-width="1" />
<line x1="298.75" y1="523.00" x2="497.50" y2="523.00" stroke="#989898" stroke-width="1" />
<line x1="298.75" y1="402.50" x2="301.25" y2="402.50" stroke="#989898" stroke-width="1" />
<text x="283.50" y="405.20" font-size="11" text-anchor="middle" font-weight="normal" fill="#222" textLength="26.00" lengthAdjust="spacingAndGlyphs"  stroke="#222" stroke-width="0.18">0.04</text>
<line x1="298.75" y1="432.70" x2="301.25" y2="432.70" stroke="#989898" stroke-width="1" />
<text x="283.50" y="435.40" font-size="11" text-anchor="middle" font-weight="normal" fill="#222" textLength="26.00" lengthAdjust="spacingAndGlyphs"  stroke="#222" stroke-width="0.18">0.03</text>
<line x1="298.75" y1="462.90" x2="301.25" y2="462.90" stroke="#989898" stroke-width="1" />
<text x="283.50" y="465.60" font-size="11" text-anchor="middle" font-weight="normal" fill="#222" textLength="26.00" lengthAdjust="spacingAndGlyphs"  stroke="#222" stroke-width="0.18">0.02</text>
<line x1="298.75" y1="493.00" x2="301.25" y2="493.00" stroke="#989898" stroke-width="1" />
<text x="283.50" y="495.70" font-size="11" text-anchor="middle" font-weight="normal" fill="#222" textLength="26.00" lengthAdjust="spacingAndGlyphs"  stroke="#222" stroke-width="0.18">0.01</text>
<line x1="298.75" y1="523.00" x2="301.25" y2="523.00" stroke="#989898" stroke-width="1" />
<text x="283.50" y="525.70" font-size="11" text-anchor="middle" font-weight="normal" fill="#222" textLength="6.30" lengthAdjust="spacingAndGlyphs"  stroke="#222" stroke-width="0.18">0</text>
<line x1="299.25" y1="417.60" x2="301.25" y2="417.60" stroke="#989898" stroke-width="1" />
<line x1="299.25" y1="447.80" x2="301.25" y2="447.80" stroke="#989898" stroke-width="1" />
<line x1="299.25" y1="478.00" x2="301.25" y2="478.00" stroke="#989898" stroke-width="1" />
<line x1="299.25" y1="508.00" x2="301.25" y2="508.00" stroke="#989898" stroke-width="1" />
<line x1="301.25" y1="523.00" x2="301.25" y2="525.50" stroke="#989898" stroke-width="1" />
<line x1="325.78" y1="523.00" x2="325.78" y2="525.50" stroke="#989898" stroke-width="1" />
<line x1="350.31" y1="523.00" x2="350.31" y2="525.50" stroke="#989898" stroke-width="1" />
<line x1="374.84" y1="523.00" x2="374.84" y2="525.50" stroke="#989898" stroke-width="1" />
<line x1="399.38" y1="523.00" x2="399.38" y2="525.50" stroke="#989898" stroke-width="1" />
<line x1="423.91" y1="523.00" x2="423.91" y2="525.50" stroke="#989898" stroke-width="1" />
<line x1="448.44" y1="523.00" x2="448.44" y2="525.50" stroke="#989898" stroke-width="1" />
<line x1="472.97" y1="523.00" x2="472.97" y2="525.50" stroke="#989898" stroke-width="1" />
<line x1="497.50" y1="523.00" x2="497.50" y2="525.50" stroke="#989898" stroke-width="1" />
<line x1="309.85" y1="469.75" x2="309.85" y2="499.25" stroke="#8a8a8a" stroke-width="0.7" />
<line x1="307.85" y1="469.75" x2="311.85" y2="469.75" stroke="#8a8a8a" stroke-width="0.7" />
<rect x="306.20" y="499.25" width="7.30" height="23.75" fill="#1a1a1a" stroke="#1a1a1a" stroke-width="1.0"/>
<line x1="317.15" y1="428.25" x2="317.15" y2="479.25" stroke="#8a8a8a" stroke-width="0.7" />
<line x1="315.15" y1="428.25" x2="319.15" y2="428.25" stroke="#8a8a8a" stroke-width="0.7" />
<rect x="313.50" y="479.25" width="7.30" height="43.75" fill="#858585" stroke="#1a1a1a" stroke-width="1.0"/>
<line x1="334.35" y1="519.50" x2="334.35" y2="521.75" stroke="#8a8a8a" stroke-width="0.7" />
<line x1="332.35" y1="519.50" x2="336.35" y2="519.50" stroke="#8a8a8a" stroke-width="0.7" />
<rect x="330.20" y="521.25" width="8.30" height="1.75" fill="#222"/>
<line x1="341.65" y1="517.50" x2="341.65" y2="520.75" stroke="#8a8a8a" stroke-width="0.7" />
<line x1="339.65" y1="517.50" x2="343.65" y2="517.50" stroke="#8a8a8a" stroke-width="0.7" />
<rect x="338.00" y="520.75" width="7.30" height="2.25" fill="#858585" stroke="#1a1a1a" stroke-width="1.0"/>
<line x1="358.85" y1="509.50" x2="358.85" y2="518.00" stroke="#8a8a8a" stroke-width="0.7" />
<line x1="356.85" y1="509.50" x2="360.85" y2="509.50" stroke="#8a8a8a" stroke-width="0.7" />
<rect x="355.20" y="518.00" width="7.30" height="5.00" fill="#1a1a1a" stroke="#1a1a1a" stroke-width="1.0"/>
<line x1="366.15" y1="518.00" x2="366.15" y2="520.75" stroke="#8a8a8a" stroke-width="0.7" />
<line x1="364.15" y1="518.00" x2="368.15" y2="518.00" stroke="#8a8a8a" stroke-width="0.7" />
<rect x="362.50" y="520.75" width="7.30" height="2.25" fill="#858585" stroke="#1a1a1a" stroke-width="1.0"/>
<line x1="383.35" y1="506.25" x2="383.35" y2="515.50" stroke="#8a8a8a" stroke-width="0.7" />
<line x1="381.35" y1="506.25" x2="385.35" y2="506.25" stroke="#8a8a8a" stroke-width="0.7" />
<rect x="379.70" y="515.50" width="7.30" height="7.50" fill="#1a1a1a" stroke="#1a1a1a" stroke-width="1.0"/>
<line x1="390.65" y1="511.25" x2="390.65" y2="517.00" stroke="#8a8a8a" stroke-width="0.7" />
<line x1="388.65" y1="511.25" x2="392.65" y2="511.25" stroke="#8a8a8a" stroke-width="0.7" />
<rect x="387.00" y="517.00" width="7.30" height="6.00" fill="#858585" stroke="#1a1a1a" stroke-width="1.0"/>
<line x1="407.85" y1="518.00" x2="407.85" y2="521.75" stroke="#8a8a8a" stroke-width="0.7" />
<line x1="405.85" y1="518.00" x2="409.85" y2="518.00" stroke="#8a8a8a" stroke-width="0.7" />
<rect x="403.70" y="521.25" width="8.30" height="1.75" fill="#222"/>
<line x1="415.15" y1="519.50" x2="415.15" y2="521.75" stroke="#8a8a8a" stroke-width="0.7" />
<line x1="413.15" y1="519.50" x2="417.15" y2="519.50" stroke="#8a8a8a" stroke-width="0.7" />
<rect x="411.00" y="521.25" width="8.30" height="1.75" fill="#222"/>
<line x1="432.35" y1="512.00" x2="432.35" y2="518.00" stroke="#8a8a8a" stroke-width="0.7" />
<line x1="430.35" y1="512.00" x2="434.35" y2="512.00" stroke="#8a8a8a" stroke-width="0.7" />
<rect x="428.70" y="518.00" width="7.30" height="5.00" fill="#1a1a1a" stroke="#1a1a1a" stroke-width="1.0"/>
<line x1="439.65" y1="510.00" x2="439.65" y2="518.00" stroke="#8a8a8a" stroke-width="0.7" />
<line x1="437.65" y1="510.00" x2="441.65" y2="510.00" stroke="#8a8a8a" stroke-width="0.7" />
<rect x="436.00" y="518.00" width="7.30" height="5.00" fill="#858585" stroke="#1a1a1a" stroke-width="1.0"/>
<line x1="456.85" y1="517.50" x2="456.85" y2="521.25" stroke="#8a8a8a" stroke-width="0.7" />
<line x1="454.85" y1="517.50" x2="458.85" y2="517.50" stroke="#8a8a8a" stroke-width="0.7" />
<rect x="453.20" y="521.25" width="7.30" height="1.75" fill="#1a1a1a" stroke="#1a1a1a" stroke-width="1.0"/>
<line x1="464.15" y1="517.50" x2="464.15" y2="520.75" stroke="#8a8a8a" stroke-width="0.7" />
<line x1="462.15" y1="517.50" x2="466.15" y2="517.50" stroke="#8a8a8a" stroke-width="0.7" />
<rect x="460.50" y="520.75" width="7.30" height="2.25" fill="#858585" stroke="#1a1a1a" stroke-width="1.0"/>
<line x1="481.35" y1="436.25" x2="481.35" y2="476.60" stroke="#8a8a8a" stroke-width="0.7" />
<line x1="479.35" y1="436.25" x2="483.35" y2="436.25" stroke="#8a8a8a" stroke-width="0.7" />
<rect x="477.70" y="476.60" width="7.30" height="46.40" fill="#1a1a1a" stroke="#1a1a1a" stroke-width="1.0"/>
<line x1="488.65" y1="398.75" x2="488.65" y2="461.25" stroke="#8a8a8a" stroke-width="0.7" />
<line x1="486.65" y1="398.75" x2="490.65" y2="398.75" stroke="#8a8a8a" stroke-width="0.7" />
<rect x="485.00" y="461.25" width="7.30" height="61.75" fill="#858585" stroke="#1a1a1a" stroke-width="1.0"/>
<text x="313.50" y="534.90" font-size="10.2" text-anchor="middle" font-weight="normal" fill="#222" textLength="16.50" lengthAdjust="spacingAndGlyphs"  stroke="#222" stroke-width="0.18">GM</text>
<text x="337.50" y="534.90" font-size="10.2" text-anchor="middle" font-weight="normal" fill="#222" textLength="8.60" lengthAdjust="spacingAndGlyphs"  stroke="#222" stroke-width="0.18">M</text>
<text x="362.90" y="534.90" font-size="10.2" text-anchor="middle" font-weight="normal" fill="#222" textLength="7.60" lengthAdjust="spacingAndGlyphs"  stroke="#222" stroke-width="0.18">G</text>
<text x="387.20" y="534.90" font-size="10.2" text-anchor="middle" font-weight="normal" fill="#222" textLength="6.30" lengthAdjust="spacingAndGlyphs"  stroke="#222" stroke-width="0.18">E</text>
<text x="411.50" y="534.90" font-size="10.2" text-anchor="middle" font-weight="normal" fill="#222" textLength="31.00" lengthAdjust="spacingAndGlyphs"  stroke="#222" stroke-width="0.18">GEMM</text>
<text x="437.50" y="534.90" font-size="10.2" text-anchor="middle" font-weight="normal" fill="#222" textLength="13.50" lengthAdjust="spacingAndGlyphs"  stroke="#222" stroke-width="0.18">Mk</text>
<text x="462.20" y="534.90" font-size="10.2" text-anchor="middle" font-weight="normal" fill="#222" textLength="20.50" lengthAdjust="spacingAndGlyphs"  stroke="#222" stroke-width="0.18">MkE</text>
<text x="487.50" y="534.90" font-size="10.2" text-anchor="middle" font-weight="normal" fill="#222" textLength="22.50" lengthAdjust="spacingAndGlyphs"  stroke="#222" stroke-width="0.18">Total</text>
<text x="492.30" y="398.80" font-size="11.5" text-anchor="end" font-weight="normal" fill="#111" textLength="58.00" lengthAdjust="spacingAndGlyphs" >Old Spleen</text>
<polygon points="27.90,223.10 24.50,236.10 31.30,236.10" fill="#1a1a1a"/>
<line x1="27.90" y1="235.10" x2="27.90" y2="467.50" stroke="#1a1a1a" stroke-width="1.8" />
<text x="31.30" y="530.30" font-size="11.8" text-anchor="start" font-weight="normal" fill="#222" textLength="52.50" lengthAdjust="spacingAndGlyphs" transform="rotate(-90 31.30 530.30)"  stroke="#222" stroke-width="0.18">CFU-C (%)</text>
<line x1="50.00" y1="559.50" x2="268.00" y2="559.50" stroke="#4a4a4a" stroke-width="1" />
<line x1="268.00" y1="559.50" x2="268.00" y2="697.00" stroke="#9a9a9a" stroke-width="1" />
<line x1="50.00" y1="674.10" x2="268.00" y2="674.10" stroke="#4a4a4a" stroke-width="0.85" />
<line x1="50.00" y1="651.20" x2="268.00" y2="651.20" stroke="#4a4a4a" stroke-width="0.85" />
<line x1="50.00" y1="628.30" x2="268.00" y2="628.30" stroke="#4a4a4a" stroke-width="0.85" />
<line x1="50.00" y1="605.40" x2="268.00" y2="605.40" stroke="#4a4a4a" stroke-width="0.85" />
<line x1="50.00" y1="582.50" x2="268.00" y2="582.50" stroke="#4a4a4a" stroke-width="0.85" />
<line x1="50.00" y1="559.50" x2="50.00" y2="697.00" stroke="#666" stroke-width="1" />
<rect x="48.70" y="559.50" width="2.6" height="27" fill="#808080"/>
<line x1="47.50" y1="697.00" x2="268.00" y2="697.00" stroke="#333" stroke-width="1.2" />
<line x1="47.50" y1="697.00" x2="50.00" y2="697.00" stroke="#4a4a4a" stroke-width="1" />
<text x="38.80" y="701.00" font-size="11" text-anchor="middle" font-weight="normal" fill="#222" textLength="6.30" lengthAdjust="spacingAndGlyphs"  stroke="#222" stroke-width="0.18">0</text>
<line x1="47.50" y1="674.10" x2="50.00" y2="674.10" stroke="#4a4a4a" stroke-width="1" />
<text x="38.80" y="678.10" font-size="11" text-anchor="middle" font-weight="normal" fill="#222" textLength="12.80" lengthAdjust="spacingAndGlyphs"  stroke="#222" stroke-width="0.18">10</text>
<line x1="47.50" y1="651.20" x2="50.00" y2="651.20" stroke="#4a4a4a" stroke-width="1" />
<text x="38.80" y="655.20" font-size="11" text-anchor="middle" font-weight="normal" fill="#222" textLength="12.80" lengthAdjust="spacingAndGlyphs"  stroke="#222" stroke-width="0.18">20</text>
<line x1="47.50" y1="628.30" x2="50.00" y2="628.30" stroke="#4a4a4a" stroke-width="1" />
<text x="38.80" y="632.30" font-size="11" text-anchor="middle" font-weight="normal" fill="#222" textLength="12.80" lengthAdjust="spacingAndGlyphs"  stroke="#222" stroke-width="0.18">30</text>
<line x1="47.50" y1="605.40" x2="50.00" y2="605.40" stroke="#4a4a4a" stroke-width="1" />
<text x="38.80" y="609.40" font-size="11" text-anchor="middle" font-weight="normal" fill="#222" textLength="12.80" lengthAdjust="spacingAndGlyphs"  stroke="#222" stroke-width="0.18">40</text>
<line x1="47.50" y1="582.50" x2="50.00" y2="582.50" stroke="#4a4a4a" stroke-width="1" />
<text x="38.80" y="586.50" font-size="11" text-anchor="middle" font-weight="normal" fill="#222" textLength="12.80" lengthAdjust="spacingAndGlyphs"  stroke="#222" stroke-width="0.18">50</text>
<line x1="47.50" y1="559.60" x2="50.00" y2="559.60" stroke="#4a4a4a" stroke-width="1" />
<text x="38.80" y="563.60" font-size="11" text-anchor="middle" font-weight="normal" fill="#222" textLength="12.80" lengthAdjust="spacingAndGlyphs"  stroke="#222" stroke-width="0.18">60</text>
<line x1="50.00" y1="697.00" x2="50.00" y2="699.50" stroke="#4a4a4a" stroke-width="1" />
<line x1="77.25" y1="697.00" x2="77.25" y2="699.50" stroke="#4a4a4a" stroke-width="1" />
<line x1="104.50" y1="697.00" x2="104.50" y2="699.50" stroke="#4a4a4a" stroke-width="1" />
<line x1="131.75" y1="697.00" x2="131.75" y2="699.50" stroke="#4a4a4a" stroke-width="1" />
<line x1="159.00" y1="697.00" x2="159.00" y2="699.50" stroke="#4a4a4a" stroke-width="1" />
<line x1="186.25" y1="697.00" x2="186.25" y2="699.50" stroke="#4a4a4a" stroke-width="1" />
<line x1="213.50" y1="697.00" x2="213.50" y2="699.50" stroke="#4a4a4a" stroke-width="1" />
<line x1="240.75" y1="697.00" x2="240.75" y2="699.50" stroke="#4a4a4a" stroke-width="1" />
<line x1="268.00" y1="697.00" x2="268.00" y2="699.50" stroke="#4a4a4a" stroke-width="1" />
<line x1="59.00" y1="635.00" x2="59.00" y2="644.50" stroke="#444" stroke-width="0.8" />
<line x1="56.70" y1="635.00" x2="61.30" y2="635.00" stroke="#444" stroke-width="0.8" />
<rect x="54.25" y="644.50" width="9.50" height="52.50" fill="#1a1a1a" stroke="#1a1a1a" stroke-width="1.0"/>
<line x1="68.50" y1="630.50" x2="68.50" y2="643.25" stroke="#444" stroke-width="0.8" />
<line x1="66.20" y1="630.50" x2="70.80" y2="630.50" stroke="#444" stroke-width="0.8" />
<rect x="63.75" y="643.25" width="9.50" height="53.75" fill="#858585" stroke="#1a1a1a" stroke-width="1.0"/>
<line x1="86.30" y1="681.25" x2="86.30" y2="685.00" stroke="#444" stroke-width="0.8" />
<line x1="84.00" y1="681.25" x2="88.60" y2="681.25" stroke="#444" stroke-width="0.8" />
<rect x="81.55" y="685.00" width="9.50" height="12.00" fill="#1a1a1a" stroke="#1a1a1a" stroke-width="1.0"/>
<line x1="95.80" y1="682.50" x2="95.80" y2="685.00" stroke="#444" stroke-width="0.8" />
<line x1="93.50" y1="682.50" x2="98.10" y2="682.50" stroke="#444" stroke-width="0.8" />
<rect x="91.05" y="685.00" width="9.50" height="12.00" fill="#858585" stroke="#1a1a1a" stroke-width="1.0"/>
<line x1="113.60" y1="646.25" x2="113.60" y2="656.75" stroke="#444" stroke-width="0.8" />
<line x1="111.30" y1="646.25" x2="115.90" y2="646.25" stroke="#444" stroke-width="0.8" />
<rect x="108.85" y="656.75" width="9.50" height="40.25" fill="#1a1a1a" stroke="#1a1a1a" stroke-width="1.0"/>
<line x1="123.10" y1="641.25" x2="123.10" y2="655.50" stroke="#444" stroke-width="0.8" />
<line x1="120.80" y1="641.25" x2="125.40" y2="641.25" stroke="#444" stroke-width="0.8" />
<rect x="118.35" y="655.50" width="9.50" height="41.50" fill="#858585" stroke="#1a1a1a" stroke-width="1.0"/>
<line x1="140.90" y1="684.50" x2="140.90" y2="686.75" stroke="#444" stroke-width="0.8" />
<line x1="138.60" y1="684.50" x2="143.20" y2="684.50" stroke="#444" stroke-width="0.8" />
<rect x="136.15" y="686.75" width="9.50" height="10.25" fill="#1a1a1a" stroke="#1a1a1a" stroke-width="1.0"/>
<line x1="150.40" y1="685.50" x2="150.40" y2="687.50" stroke="#444" stroke-width="0.8" />
<line x1="148.10" y1="685.50" x2="152.70" y2="685.50" stroke="#444" stroke-width="0.8" />
<rect x="145.65" y="687.50" width="9.50" height="9.50" fill="#858585" stroke="#1a1a1a" stroke-width="1.0"/>
<line x1="168.20" y1="662.50" x2="168.20" y2="668.75" stroke="#444" stroke-width="0.8" />
<line x1="165.90" y1="662.50" x2="170.50" y2="662.50" stroke="#444" stroke-width="0.8" />
<rect x="163.45" y="668.75" width="9.50" height="28.25" fill="#1a1a1a" stroke="#1a1a1a" stroke-width="1.0"/>
<line x1="177.70" y1="663.25" x2="177.70" y2="669.50" stroke="#444" stroke-width="0.8" />
<line x1="175.40" y1="663.25" x2="180.00" y2="663.25" stroke="#444" stroke-width="0.8" />
<rect x="172.95" y="669.50" width="9.50" height="27.50" fill="#858585" stroke="#1a1a1a" stroke-width="1.0"/>
<line x1="195.50" y1="692.00" x2="195.50" y2="693.25" stroke="#444" stroke-width="0.8" />
<line x1="193.20" y1="692.00" x2="197.80" y2="692.00" stroke="#444" stroke-width="0.8" />
<rect x="190.75" y="693.25" width="9.50" height="3.75" fill="#1a1a1a" stroke="#1a1a1a" stroke-width="1.0"/>
<line x1="205.00" y1="693.50" x2="205.00" y2="694.25" stroke="#444" stroke-width="0.8" />
<line x1="202.70" y1="693.50" x2="207.30" y2="693.50" stroke="#444" stroke-width="0.8" />
<rect x="200.25" y="694.25" width="9.50" height="2.75" fill="#858585" stroke="#1a1a1a" stroke-width="1.0"/>
<line x1="222.80" y1="612.50" x2="222.80" y2="636.75" stroke="#444" stroke-width="0.8" />
<line x1="220.50" y1="612.50" x2="225.10" y2="612.50" stroke="#444" stroke-width="0.8" />
<rect x="218.05" y="636.75" width="9.50" height="60.25" fill="#1a1a1a" stroke="#1a1a1a" stroke-width="1.0"/>
<line x1="232.30" y1="607.00" x2="232.30" y2="632.00" stroke="#444" stroke-width="0.8" />
<line x1="230.00" y1="607.00" x2="234.60" y2="607.00" stroke="#444" stroke-width="0.8" />
<rect x="227.55" y="632.00" width="9.50" height="65.00" fill="#858585" stroke="#1a1a1a" stroke-width="1.0"/>
<line x1="250.10" y1="584.25" x2="250.10" y2="599.25" stroke="#444" stroke-width="0.8" />
<line x1="247.80" y1="584.25" x2="252.40" y2="584.25" stroke="#444" stroke-width="0.8" />
<rect x="245.35" y="599.25" width="9.50" height="97.75" fill="#1a1a1a" stroke="#1a1a1a" stroke-width="1.0"/>
<line x1="259.60" y1="588.00" x2="259.60" y2="602.50" stroke="#444" stroke-width="0.8" />
<line x1="257.30" y1="588.00" x2="261.90" y2="588.00" stroke="#444" stroke-width="0.8" />
<rect x="254.85" y="602.50" width="9.50" height="94.50" fill="#858585" stroke="#1a1a1a" stroke-width="1.0"/>
<text x="68.15" y="701.40" font-size="10.7" text-anchor="end" font-weight="normal" fill="#111" textLength="27.04" lengthAdjust="spacingAndGlyphs" transform="rotate(-45 68.15 701.40)" >B220+</text>
<text x="95.25" y="701.40" font-size="10.7" text-anchor="end" font-weight="normal" fill="#111" textLength="55.12" lengthAdjust="spacingAndGlyphs" transform="rotate(-45 95.25 701.40)" >B220+ sIgM+</text>
<text x="122.55" y="701.40" font-size="10.7" text-anchor="end" font-weight="normal" fill="#111" textLength="52.52" lengthAdjust="spacingAndGlyphs" transform="rotate(-45 122.55 701.40)" >B220+ sIgM-</text>
<text x="144.25" y="703.40" font-size="10.7" text-anchor="end" font-weight="normal" fill="#111" textLength="52.52" lengthAdjust="spacingAndGlyphs" transform="rotate(-45 144.25 703.40)" >B220+ sIgM-</text>
<text x="144.07" y="720.55" font-size="10.7" text-anchor="end" font-weight="normal" fill="#111" textLength="27.04" lengthAdjust="spacingAndGlyphs" transform="rotate(-45 144.07 720.55)" >CD43+</text>
<text x="178.65" y="703.40" font-size="10.7" text-anchor="end" font-weight="normal" fill="#111" textLength="52.52" lengthAdjust="spacingAndGlyphs" transform="rotate(-45 178.65 703.40)" >B220+ sIgM-</text>
<text x="179.53" y="719.49" font-size="10.7" text-anchor="end" font-weight="normal" fill="#111" textLength="30.16" lengthAdjust="spacingAndGlyphs" transform="rotate(-45 179.53 719.49)" >CD43lo</text>
<text x="204.65" y="701.40" font-size="10.7" text-anchor="end" font-weight="normal" fill="#111" textLength="25.48" lengthAdjust="spacingAndGlyphs" transform="rotate(-45 204.65 701.40)" >CD3+</text>
<text x="231.95" y="701.40" font-size="10.7" text-anchor="end" font-weight="normal" fill="#111" textLength="34.32" lengthAdjust="spacingAndGlyphs" transform="rotate(-45 231.95 701.40)" >Ter119+</text>
<text x="259.25" y="701.40" font-size="10.7" text-anchor="end" font-weight="normal" fill="#111" textLength="52.00" lengthAdjust="spacingAndGlyphs" transform="rotate(-45 259.25 701.40)" >Mac1+ Gr1+</text>
<text x="264.30" y="573.30" font-size="11.5" text-anchor="end" font-weight="normal" fill="#111" textLength="107.00" lengthAdjust="spacingAndGlyphs" >Young Bone Marrow</text>
<rect x="51.50" y="560.50" width="54.10" height="24.60" fill="#ffffff" stroke="#111" stroke-width="1.3"/>
<rect x="57.20" y="565.40" width="11.60" height="4.40" fill="#1a1a1a" stroke="#1a1a1a" stroke-width="1"/>
<rect x="57.20" y="576.90" width="11.60" height="4.40" fill="#858585" stroke="#1a1a1a" stroke-width="1"/>
<text x="71.30" y="571.60" font-size="10.4" text-anchor="start" font-weight="normal" fill="#111" textLength="20.80" lengthAdjust="spacingAndGlyphs" >Aldh</text>
<text x="92.80" y="568.20" font-size="6.5" text-anchor="start" font-weight="normal" fill="#111" textLength="9.50" lengthAdjust="spacingAndGlyphs" >+/-</text>
<text x="71.30" y="583.10" font-size="10.4" text-anchor="start" font-weight="normal" fill="#111" textLength="20.80" lengthAdjust="spacingAndGlyphs" >Aldh</text>
<text x="92.80" y="579.70" font-size="6.5" text-anchor="start" font-weight="normal" fill="#111" textLength="9.50" lengthAdjust="spacingAndGlyphs" >-/-</text>
<line x1="301.25" y1="559.50" x2="521.00" y2="559.50" stroke="#4a4a4a" stroke-width="1" />
<line x1="521.00" y1="559.50" x2="521.00" y2="696.75" stroke="#9a9a9a" stroke-width="1" />
<line x1="301.25" y1="677.14" x2="521.00" y2="677.14" stroke="#4a4a4a" stroke-width="0.85" />
<line x1="301.25" y1="657.53" x2="521.00" y2="657.53" stroke="#4a4a4a" stroke-width="0.85" />
<line x1="301.25" y1="637.92" x2="521.00" y2="637.92" stroke="#4a4a4a" stroke-width="0.85" />
<line x1="301.25" y1="618.31" x2="521.00" y2="618.31" stroke="#4a4a4a" stroke-width="0.85" />
<line x1="301.25" y1="598.70" x2="521.00" y2="598.70" stroke="#4a4a4a" stroke-width="0.85" />
<line x1="301.25" y1="579.09" x2="521.00" y2="579.09" stroke="#4a4a4a" stroke-width="0.85" />
<line x1="301.25" y1="559.50" x2="301.25" y2="696.75" stroke="#4a4a4a" stroke-width="1" />
<line x1="298.75" y1="696.75" x2="521.00" y2="696.75" stroke="#333" stroke-width="1.2" />
<line x1="298.75" y1="696.75" x2="301.25" y2="696.75" stroke="#4a4a4a" stroke-width="1" />
<text x="290.50" y="700.75" font-size="11" text-anchor="middle" font-weight="normal" fill="#222" textLength="6.30" lengthAdjust="spacingAndGlyphs"  stroke="#222" stroke-width="0.18">0</text>
<line x1="298.75" y1="677.14" x2="301.25" y2="677.14" stroke="#4a4a4a" stroke-width="1" />
<text x="290.50" y="681.14" font-size="11" text-anchor="middle" font-weight="normal" fill="#222" textLength="12.80" lengthAdjust="spacingAndGlyphs"  stroke="#222" stroke-width="0.18">10</text>
<line x1="298.75" y1="657.53" x2="301.25" y2="657.53" stroke="#4a4a4a" stroke-width="1" />
<text x="290.50" y="661.53" font-size="11" text-anchor="middle" font-weight="normal" fill="#222" textLength="12.80" lengthAdjust="spacingAndGlyphs"  stroke="#222" stroke-width="0.18">20</text>
<line x1="298.75" y1="637.92" x2="301.25" y2="637.92" stroke="#4a4a4a" stroke-width="1" />
<text x="290.50" y="641.92" font-size="11" text-anchor="middle" font-weight="normal" fill="#222" textLength="12.80" lengthAdjust="spacingAndGlyphs"  stroke="#222" stroke-width="0.18">30</text>
<line x1="298.75" y1="618.31" x2="301.25" y2="618.31" stroke="#4a4a4a" stroke-width="1" />
<text x="290.50" y="622.31" font-size="11" text-anchor="middle" font-weight="normal" fill="#222" textLength="12.80" lengthAdjust="spacingAndGlyphs"  stroke="#222" stroke-width="0.18">40</text>
<line x1="298.75" y1="598.70" x2="301.25" y2="598.70" stroke="#4a4a4a" stroke-width="1" />
<text x="290.50" y="602.70" font-size="11" text-anchor="middle" font-weight="normal" fill="#222" textLength="12.80" lengthAdjust="spacingAndGlyphs"  stroke="#222" stroke-width="0.18">50</text>
<line x1="298.75" y1="579.09" x2="301.25" y2="579.09" stroke="#4a4a4a" stroke-width="1" />
<text x="290.50" y="583.09" font-size="11" text-anchor="middle" font-weight="normal" fill="#222" textLength="12.80" lengthAdjust="spacingAndGlyphs"  stroke="#222" stroke-width="0.18">60</text>
<line x1="298.75" y1="559.48" x2="301.25" y2="559.48" stroke="#4a4a4a" stroke-width="1" />
<text x="290.50" y="563.48" font-size="11" text-anchor="middle" font-weight="normal" fill="#222" textLength="12.80" lengthAdjust="spacingAndGlyphs"  stroke="#222" stroke-width="0.18">70</text>
<line x1="301.25" y1="696.75" x2="301.25" y2="699.25" stroke="#4a4a4a" stroke-width="1" />
<line x1="328.72" y1="696.75" x2="328.72" y2="699.25" stroke="#4a4a4a" stroke-width="1" />
<line x1="356.19" y1="696.75" x2="356.19" y2="699.25" stroke="#4a4a4a" stroke-width="1" />
<line x1="383.66" y1="696.75" x2="383.66" y2="699.25" stroke="#4a4a4a" stroke-width="1" />
<line x1="411.12" y1="696.75" x2="411.12" y2="699.25" stroke="#4a4a4a" stroke-width="1" />
<line x1="438.59" y1="696.75" x2="438.59" y2="699.25" stroke="#4a4a4a" stroke-width="1" />
<line x1="466.06" y1="696.75" x2="466.06" y2="699.25" stroke="#4a4a4a" stroke-width="1" />
<line x1="493.53" y1="696.75" x2="493.53" y2="699.25" stroke="#4a4a4a" stroke-width="1" />
<line x1="521.00" y1="696.75" x2="521.00" y2="699.25" stroke="#4a4a4a" stroke-width="1" />
<line x1="310.95" y1="673.75" x2="310.95" y2="682.50" stroke="#444" stroke-width="0.8" />
<line x1="308.65" y1="673.75" x2="313.25" y2="673.75" stroke="#444" stroke-width="0.8" />
<rect x="306.15" y="682.50" width="9.60" height="14.25" fill="#1a1a1a" stroke="#1a1a1a" stroke-width="1.0"/>
<line x1="320.55" y1="675.75" x2="320.55" y2="683.25" stroke="#444" stroke-width="0.8" />
<line x1="318.25" y1="675.75" x2="322.85" y2="675.75" stroke="#444" stroke-width="0.8" />
<rect x="315.75" y="683.25" width="9.60" height="13.50" fill="#858585" stroke="#1a1a1a" stroke-width="1.0"/>
<line x1="338.15" y1="688.25" x2="338.15" y2="692.00" stroke="#444" stroke-width="0.8" />
<line x1="335.85" y1="688.25" x2="340.45" y2="688.25" stroke="#444" stroke-width="0.8" />
<rect x="333.35" y="692.00" width="9.60" height="4.75" fill="#1a1a1a" stroke="#1a1a1a" stroke-width="1.0"/>
<line x1="347.75" y1="686.25" x2="347.75" y2="691.25" stroke="#444" stroke-width="0.8" />
<line x1="345.45" y1="686.25" x2="350.05" y2="686.25" stroke="#444" stroke-width="0.8" />
<rect x="342.95" y="691.25" width="9.60" height="5.50" fill="#858585" stroke="#1a1a1a" stroke-width="1.0"/>
<line x1="365.35" y1="681.75" x2="365.35" y2="686.75" stroke="#444" stroke-width="0.8" />
<line x1="363.05" y1="681.75" x2="367.65" y2="681.75" stroke="#444" stroke-width="0.8" />
<rect x="360.55" y="686.75" width="9.60" height="10.00" fill="#1a1a1a" stroke="#1a1a1a" stroke-width="1.0"/>
<line x1="374.95" y1="684.25" x2="374.95" y2="688.25" stroke="#444" stroke-width="0.8" />
<line x1="372.65" y1="684.25" x2="377.25" y2="684.25" stroke="#444" stroke-width="0.8" />
<rect x="370.15" y="688.25" width="9.60" height="8.50" fill="#858585" stroke="#1a1a1a" stroke-width="1.0"/>
<line x1="392.55" y1="691.75" x2="392.55" y2="693.75" stroke="#444" stroke-width="0.8" />
<line x1="390.25" y1="691.75" x2="394.85" y2="691.75" stroke="#444" stroke-width="0.8" />
<rect x="387.75" y="693.75" width="9.60" height="3.00" fill="#1a1a1a" stroke="#1a1a1a" stroke-width="1.0"/>
<line x1="402.15" y1="692.50" x2="402.15" y2="694.25" stroke="#444" stroke-width="0.8" />
<line x1="399.85" y1="692.50" x2="404.45" y2="692.50" stroke="#444" stroke-width="0.8" />
<rect x="397.35" y="694.25" width="9.60" height="2.50" fill="#858585" stroke="#1a1a1a" stroke-width="1.0"/>
<line x1="419.75" y1="685.75" x2="419.75" y2="691.25" stroke="#444" stroke-width="0.8" />
<line x1="417.45" y1="685.75" x2="422.05" y2="685.75" stroke="#444" stroke-width="0.8" />
<rect x="414.95" y="691.25" width="9.60" height="5.50" fill="#1a1a1a" stroke="#1a1a1a" stroke-width="1.0"/>
<line x1="429.35" y1="688.75" x2="429.35" y2="693.25" stroke="#444" stroke-width="0.8" />
<line x1="427.05" y1="688.75" x2="431.65" y2="688.75" stroke="#444" stroke-width="0.8" />
<rect x="424.55" y="693.25" width="9.60" height="3.50" fill="#858585" stroke="#1a1a1a" stroke-width="1.0"/>
<line x1="446.95" y1="689.25" x2="446.95" y2="692.50" stroke="#444" stroke-width="0.8" />
<line x1="444.65" y1="689.25" x2="449.25" y2="689.25" stroke="#444" stroke-width="0.8" />
<rect x="442.15" y="692.50" width="9.60" height="4.25" fill="#1a1a1a" stroke="#1a1a1a" stroke-width="1.0"/>
<line x1="456.55" y1="689.25" x2="456.55" y2="692.50" stroke="#444" stroke-width="0.8" />
<line x1="454.25" y1="689.25" x2="458.85" y2="689.25" stroke="#444" stroke-width="0.8" />
<rect x="451.75" y="692.50" width="9.60" height="4.25" fill="#858585" stroke="#1a1a1a" stroke-width="1.0"/>
<line x1="474.15" y1="641.00" x2="474.15" y2="655.75" stroke="#444" stroke-width="0.8" />
<line x1="471.85" y1="641.00" x2="476.45" y2="641.00" stroke="#444" stroke-width="0.8" />
<rect x="469.35" y="655.75" width="9.60" height="41.00" fill="#1a1a1a" stroke="#1a1a1a" stroke-width="1.0"/>
<line x1="483.75" y1="657.50" x2="483.75" y2="670.75" stroke="#444" stroke-width="0.8" />
<line x1="481.45" y1="657.50" x2="486.05" y2="657.50" stroke="#444" stroke-width="0.8" />
<rect x="478.95" y="670.75" width="9.60" height="26.00" fill="#858585" stroke="#1a1a1a" stroke-width="1.0"/>
<line x1="501.35" y1="569.25" x2="501.35" y2="615.50" stroke="#444" stroke-width="0.8" />
<line x1="499.05" y1="569.25" x2="503.65" y2="569.25" stroke="#444" stroke-width="0.8" />
<rect x="496.55" y="615.50" width="9.60" height="81.25" fill="#1a1a1a" stroke="#1a1a1a" stroke-width="1.0"/>
<line x1="510.95" y1="576.75" x2="510.95" y2="626.25" stroke="#444" stroke-width="0.8" />
<line x1="508.65" y1="576.75" x2="513.25" y2="576.75" stroke="#444" stroke-width="0.8" />
<rect x="506.15" y="626.25" width="9.60" height="70.50" fill="#858585" stroke="#1a1a1a" stroke-width="1.0"/>
<text x="320.65" y="700.75" font-size="10.7" text-anchor="end" font-weight="normal" fill="#111" textLength="27.04" lengthAdjust="spacingAndGlyphs" transform="rotate(-45 320.65 700.75)" >B220+</text>
<text x="347.35" y="700.75" font-size="10.7" text-anchor="end" font-weight="normal" fill="#111" textLength="55.12" lengthAdjust="spacingAndGlyphs" transform="rotate(-45 347.35 700.75)" >B220+ sIgM+</text>
<text x="374.55" y="700.95" font-size="10.7" text-anchor="end" font-weight="normal" fill="#111" textLength="52.52" lengthAdjust="spacingAndGlyphs" transform="rotate(-45 374.55 700.95)" >B220+ sIgM-</text>
<text x="396.95" y="702.55" font-size="10.7" text-anchor="end" font-weight="normal" fill="#111" textLength="52.52" lengthAdjust="spacingAndGlyphs" transform="rotate(-45 396.95 702.55)" >B220+ sIgM-</text>
<text x="396.77" y="719.70" font-size="10.7" text-anchor="end" font-weight="normal" fill="#111" textLength="27.04" lengthAdjust="spacingAndGlyphs" transform="rotate(-45 396.77 719.70)" >CD43+</text>
<text x="431.35" y="700.85" font-size="10.7" text-anchor="end" font-weight="normal" fill="#111" textLength="52.52" lengthAdjust="spacingAndGlyphs" transform="rotate(-45 431.35 700.85)" >B220+ sIgM-</text>
<text x="432.23" y="716.94" font-size="10.7" text-anchor="end" font-weight="normal" fill="#111" textLength="30.16" lengthAdjust="spacingAndGlyphs" transform="rotate(-45 432.23 716.94)" >CD43lo</text>
<text x="456.35" y="700.75" font-size="10.7" text-anchor="end" font-weight="normal" fill="#111" textLength="25.48" lengthAdjust="spacingAndGlyphs" transform="rotate(-45 456.35 700.75)" >CD3+</text>
<text x="483.55" y="700.75" font-size="10.7" text-anchor="end" font-weight="normal" fill="#111" textLength="34.32" lengthAdjust="spacingAndGlyphs" transform="rotate(-45 483.55 700.75)" >Ter119+</text>
<text x="510.55" y="700.75" font-size="10.7" text-anchor="end" font-weight="normal" fill="#111" textLength="52.00" lengthAdjust="spacingAndGlyphs" transform="rotate(-45 510.55 700.75)" >Mac1+ Gr1+</text>
<text x="496.50" y="573.30" font-size="11.5" text-anchor="end" font-weight="normal" fill="#111" textLength="93.00" lengthAdjust="spacingAndGlyphs" >Old Bone Marrow</text>
<line x1="51.75" y1="755.50" x2="265.50" y2="755.50" stroke="#989898" stroke-width="1" />
<line x1="265.50" y1="755.50" x2="265.50" y2="890.75" stroke="#c2c2c2" stroke-width="1" />
<line x1="51.75" y1="856.95" x2="265.50" y2="856.95" stroke="#989898" stroke-width="1" />
<line x1="51.75" y1="823.15" x2="265.50" y2="823.15" stroke="#989898" stroke-width="1" />
<line x1="51.75" y1="789.35" x2="265.50" y2="789.35" stroke="#989898" stroke-width="1" />
<line x1="51.75" y1="755.50" x2="51.75" y2="890.75" stroke="#989898" stroke-width="1" />
<line x1="49.25" y1="890.75" x2="265.50" y2="890.75" stroke="#888" stroke-width="1" />
<line x1="49.25" y1="890.75" x2="51.75" y2="890.75" stroke="#989898" stroke-width="1" />
<text x="42.00" y="893.75" font-size="11" text-anchor="middle" font-weight="normal" fill="#222" textLength="6.30" lengthAdjust="spacingAndGlyphs"  stroke="#222" stroke-width="0.18">0</text>
<line x1="49.25" y1="873.85" x2="51.75" y2="873.85" stroke="#989898" stroke-width="1" />
<text x="42.00" y="876.85" font-size="11" text-anchor="middle" font-weight="normal" fill="#222" textLength="12.80" lengthAdjust="spacingAndGlyphs"  stroke="#222" stroke-width="0.18">10</text>
<line x1="49.25" y1="856.95" x2="51.75" y2="856.95" stroke="#989898" stroke-width="1" />
<text x="42.00" y="859.95" font-size="11" text-anchor="middle" font-weight="normal" fill="#222" textLength="12.80" lengthAdjust="spacingAndGlyphs"  stroke="#222" stroke-width="0.18">20</text>
<line x1="49.25" y1="840.05" x2="51.75" y2="840.05" stroke="#989898" stroke-width="1" />
<text x="42.00" y="843.05" font-size="11" text-anchor="middle" font-weight="normal" fill="#222" textLength="12.80" lengthAdjust="spacingAndGlyphs"  stroke="#222" stroke-width="0.18">30</text>
<line x1="49.25" y1="823.15" x2="51.75" y2="823.15" stroke="#989898" stroke-width="1" />
<text x="42.00" y="826.15" font-size="11" text-anchor="middle" font-weight="normal" fill="#222" textLength="12.80" lengthAdjust="spacingAndGlyphs"  stroke="#222" stroke-width="0.18">40</text>
<line x1="49.25" y1="806.25" x2="51.75" y2="806.25" stroke="#989898" stroke-width="1" />
<text x="42.00" y="809.25" font-size="11" text-anchor="middle" font-weight="normal" fill="#222" textLength="12.80" lengthAdjust="spacingAndGlyphs"  stroke="#222" stroke-width="0.18">50</text>
<line x1="49.25" y1="789.35" x2="51.75" y2="789.35" stroke="#989898" stroke-width="1" />
<text x="42.00" y="792.35" font-size="11" text-anchor="middle" font-weight="normal" fill="#222" textLength="12.80" lengthAdjust="spacingAndGlyphs"  stroke="#222" stroke-width="0.18">60</text>
<line x1="49.25" y1="772.45" x2="51.75" y2="772.45" stroke="#989898" stroke-width="1" />
<text x="42.00" y="775.45" font-size="11" text-anchor="middle" font-weight="normal" fill="#222" textLength="12.80" lengthAdjust="spacingAndGlyphs"  stroke="#222" stroke-width="0.18">70</text>
<line x1="49.25" y1="755.55" x2="51.75" y2="755.55" stroke="#989898" stroke-width="1" />
<text x="42.00" y="758.55" font-size="11" text-anchor="middle" font-weight="normal" fill="#222" textLength="12.80" lengthAdjust="spacingAndGlyphs"  stroke="#222" stroke-width="0.18">80</text>
<line x1="51.75" y1="890.75" x2="51.75" y2="893.25" stroke="#989898" stroke-width="1" />
<line x1="75.50" y1="890.75" x2="75.50" y2="893.25" stroke="#989898" stroke-width="1" />
<line x1="99.25" y1="890.75" x2="99.25" y2="893.25" stroke="#989898" stroke-width="1" />
<line x1="123.00" y1="890.75" x2="123.00" y2="893.25" stroke="#989898" stroke-width="1" />
<line x1="146.75" y1="890.75" x2="146.75" y2="893.25" stroke="#989898" stroke-width="1" />
<line x1="170.50" y1="890.75" x2="170.50" y2="893.25" stroke="#989898" stroke-width="1" />
<line x1="194.25" y1="890.75" x2="194.25" y2="893.25" stroke="#989898" stroke-width="1" />
<line x1="218.00" y1="890.75" x2="218.00" y2="893.25" stroke="#989898" stroke-width="1" />
<line x1="241.75" y1="890.75" x2="241.75" y2="893.25" stroke="#989898" stroke-width="1" />
<line x1="265.50" y1="890.75" x2="265.50" y2="893.25" stroke="#989898" stroke-width="1" />
<line x1="59.55" y1="777.00" x2="59.55" y2="784.25" stroke="#8a8a8a" stroke-width="0.7" />
<line x1="57.55" y1="777.00" x2="61.55" y2="777.00" stroke="#8a8a8a" stroke-width="0.7" />
<rect x="55.35" y="784.25" width="8.40" height="106.50" fill="#1a1a1a" stroke="#1a1a1a" stroke-width="1.0"/>
<line x1="67.95" y1="779.25" x2="67.95" y2="785.75" stroke="#8a8a8a" stroke-width="0.7" />
<line x1="65.95" y1="779.25" x2="69.95" y2="779.25" stroke="#8a8a8a" stroke-width="0.7" />
<rect x="63.75" y="785.75" width="8.40" height="105.00" fill="#858585" stroke="#1a1a1a" stroke-width="1.0"/>
<line x1="83.42" y1="794.25" x2="83.42" y2="816.75" stroke="#8a8a8a" stroke-width="0.7" />
<line x1="81.42" y1="794.25" x2="85.42" y2="794.25" stroke="#8a8a8a" stroke-width="0.7" />
<rect x="79.22" y="816.75" width="8.40" height="74.00" fill="#1a1a1a" stroke="#1a1a1a" stroke-width="1.0"/>
<line x1="91.83" y1="797.50" x2="91.83" y2="818.25" stroke="#8a8a8a" stroke-width="0.7" />
<line x1="89.83" y1="797.50" x2="93.83" y2="797.50" stroke="#8a8a8a" stroke-width="0.7" />
<rect x="87.62" y="818.25" width="8.40" height="72.50" fill="#858585" stroke="#1a1a1a" stroke-width="1.0"/>
<line x1="107.30" y1="834.75" x2="107.30" y2="857.75" stroke="#8a8a8a" stroke-width="0.7" />
<line x1="105.30" y1="834.75" x2="109.30" y2="834.75" stroke="#8a8a8a" stroke-width="0.7" />
<rect x="103.10" y="857.75" width="8.40" height="33.00" fill="#1a1a1a" stroke="#1a1a1a" stroke-width="1.0"/>
<line x1="115.70" y1="836.00" x2="115.70" y2="857.75" stroke="#8a8a8a" stroke-width="0.7" />
<line x1="113.70" y1="836.00" x2="117.70" y2="836.00" stroke="#8a8a8a" stroke-width="0.7" />
<rect x="111.50" y="857.75" width="8.40" height="33.00" fill="#858585" stroke="#1a1a1a" stroke-width="1.0"/>
<line x1="131.18" y1="846.00" x2="131.18" y2="852.75" stroke="#8a8a8a" stroke-width="0.7" />
<line x1="129.18" y1="846.00" x2="133.18" y2="846.00" stroke="#8a8a8a" stroke-width="0.7" />
<rect x="126.97" y="852.75" width="8.40" height="38.00" fill="#1a1a1a" stroke="#1a1a1a" stroke-width="1.0"/>
<line x1="139.57" y1="848.50" x2="139.57" y2="853.50" stroke="#8a8a8a" stroke-width="0.7" />
<line x1="137.57" y1="848.50" x2="141.57" y2="848.50" stroke="#8a8a8a" stroke-width="0.7" />
<rect x="135.38" y="853.50" width="8.40" height="37.25" fill="#858585" stroke="#1a1a1a" stroke-width="1.0"/>
<line x1="155.05" y1="864.00" x2="155.05" y2="865.25" stroke="#8a8a8a" stroke-width="0.7" />
<line x1="153.05" y1="864.00" x2="157.05" y2="864.00" stroke="#8a8a8a" stroke-width="0.7" />
<rect x="150.85" y="865.25" width="8.40" height="25.50" fill="#1a1a1a" stroke="#1a1a1a" stroke-width="1.0"/>
<line x1="163.45" y1="864.75" x2="163.45" y2="866.00" stroke="#8a8a8a" stroke-width="0.7" />
<line x1="161.45" y1="864.75" x2="165.45" y2="864.75" stroke="#8a8a8a" stroke-width="0.7" />
<rect x="159.25" y="866.00" width="8.40" height="24.75" fill="#858585" stroke="#1a1a1a" stroke-width="1.0"/>
<line x1="178.93" y1="889.50" x2="178.93" y2="890.40" stroke="#8a8a8a" stroke-width="0.7" />
<line x1="176.93" y1="889.50" x2="180.93" y2="889.50" stroke="#8a8a8a" stroke-width="0.7" />
<rect x="174.72" y="889.90" width="8.40" height="0.85" fill="#999"/>
<line x1="187.32" y1="889.50" x2="187.32" y2="890.40" stroke="#8a8a8a" stroke-width="0.7" />
<line x1="185.32" y1="889.50" x2="189.32" y2="889.50" stroke="#8a8a8a" stroke-width="0.7" />
<rect x="183.12" y="889.90" width="8.40" height="0.85" fill="#999"/>
<line x1="202.80" y1="875.75" x2="202.80" y2="877.00" stroke="#8a8a8a" stroke-width="0.7" />
<line x1="200.80" y1="875.75" x2="204.80" y2="875.75" stroke="#8a8a8a" stroke-width="0.7" />
<rect x="198.60" y="877.00" width="8.40" height="13.75" fill="#1a1a1a" stroke="#1a1a1a" stroke-width="1.0"/>
<line x1="211.20" y1="875.75" x2="211.20" y2="877.00" stroke="#8a8a8a" stroke-width="0.7" />
<line x1="209.20" y1="875.75" x2="213.20" y2="875.75" stroke="#8a8a8a" stroke-width="0.7" />
<rect x="207.00" y="877.00" width="8.40" height="13.75" fill="#858585" stroke="#1a1a1a" stroke-width="1.0"/>
<line x1="226.68" y1="862.00" x2="226.68" y2="871.50" stroke="#8a8a8a" stroke-width="0.7" />
<line x1="224.68" y1="862.00" x2="228.68" y2="862.00" stroke="#8a8a8a" stroke-width="0.7" />
<rect x="222.47" y="871.50" width="8.40" height="19.25" fill="#1a1a1a" stroke="#1a1a1a" stroke-width="1.0"/>
<line x1="235.07" y1="864.50" x2="235.07" y2="871.00" stroke="#8a8a8a" stroke-width="0.7" />
<line x1="233.07" y1="864.50" x2="237.07" y2="864.50" stroke="#8a8a8a" stroke-width="0.7" />
<rect x="230.88" y="871.00" width="8.40" height="19.75" fill="#858585" stroke="#1a1a1a" stroke-width="1.0"/>
<line x1="250.55" y1="883.50" x2="250.55" y2="885.75" stroke="#8a8a8a" stroke-width="0.7" />
<line x1="248.55" y1="883.50" x2="252.55" y2="883.50" stroke="#8a8a8a" stroke-width="0.7" />
<rect x="246.35" y="885.75" width="8.40" height="5.00" fill="#1a1a1a" stroke="#1a1a1a" stroke-width="1.0"/>
<line x1="258.95" y1="881.50" x2="258.95" y2="884.50" stroke="#8a8a8a" stroke-width="0.7" />
<line x1="256.95" y1="881.50" x2="260.95" y2="881.50" stroke="#8a8a8a" stroke-width="0.7" />
<rect x="254.75" y="884.50" width="8.40" height="6.25" fill="#858585" stroke="#1a1a1a" stroke-width="1.0"/>
<text x="67.35" y="896.85" font-size="10.7" text-anchor="end" font-weight="normal" fill="#111" textLength="27.04" lengthAdjust="spacingAndGlyphs" transform="rotate(-45 67.35 896.85)" >B220+</text>
<text x="91.22" y="896.85" font-size="10.7" text-anchor="end" font-weight="normal" fill="#111" textLength="55.12" lengthAdjust="spacingAndGlyphs" transform="rotate(-45 91.22 896.85)" >B220+ sIgM+</text>
<text x="115.10" y="896.85" font-size="10.7" text-anchor="end" font-weight="normal" fill="#111" textLength="52.52" lengthAdjust="spacingAndGlyphs" transform="rotate(-45 115.10 896.85)" >B220+ sIgM-</text>
<text x="138.97" y="896.85" font-size="10.7" text-anchor="end" font-weight="normal" fill="#111" textLength="25.48" lengthAdjust="spacingAndGlyphs" transform="rotate(-45 138.97 896.85)" >CD3+</text>
<text x="162.85" y="896.85" font-size="10.7" text-anchor="end" font-weight="normal" fill="#111" textLength="44.72" lengthAdjust="spacingAndGlyphs" transform="rotate(-45 162.85 896.85)" >CD4+ CD8-</text>
<text x="186.72" y="896.85" font-size="10.7" text-anchor="end" font-weight="normal" fill="#111" textLength="47.32" lengthAdjust="spacingAndGlyphs" transform="rotate(-45 186.72 896.85)" >CD4+ CD8+</text>
<text x="210.60" y="896.85" font-size="10.7" text-anchor="end" font-weight="normal" fill="#111" textLength="44.72" lengthAdjust="spacingAndGlyphs" transform="rotate(-45 210.60 896.85)" >CD4- CD8+</text>
<text x="234.47" y="896.85" font-size="10.7" text-anchor="end" font-weight="normal" fill="#111" textLength="34.32" lengthAdjust="spacingAndGlyphs" transform="rotate(-45 234.47 896.85)" >Ter119+</text>
<text x="258.35" y="896.85" font-size="10.7" text-anchor="end" font-weight="normal" fill="#111" textLength="52.00" lengthAdjust="spacingAndGlyphs" transform="rotate(-45 258.35 896.85)" >Mac1+ Gr1+</text>
<text x="264.00" y="768.00" font-size="11.5" text-anchor="end" font-weight="normal" fill="#111" textLength="72.50" lengthAdjust="spacingAndGlyphs" >Young Spleen</text>
<line x1="303.75" y1="755.00" x2="519.00" y2="755.00" stroke="#989898" stroke-width="1" />
<line x1="519.00" y1="755.00" x2="519.00" y2="890.75" stroke="#c2c2c2" stroke-width="1" />
<line x1="303.75" y1="856.95" x2="519.00" y2="856.95" stroke="#989898" stroke-width="1" />
<line x1="303.75" y1="823.15" x2="519.00" y2="823.15" stroke="#989898" stroke-width="1" />
<line x1="303.75" y1="789.35" x2="519.00" y2="789.35" stroke="#989898" stroke-width="1" />
<line x1="303.75" y1="755.00" x2="303.75" y2="890.75" stroke="#989898" stroke-width="1" />
<line x1="301.25" y1="890.75" x2="519.00" y2="890.75" stroke="#888" stroke-width="1" />
<line x1="301.25" y1="890.75" x2="303.75" y2="890.75" stroke="#989898" stroke-width="1" />
<text x="294.30" y="893.75" font-size="11" text-anchor="middle" font-weight="normal" fill="#222" textLength="6.30" lengthAdjust="spacingAndGlyphs"  stroke="#222" stroke-width="0.18">0</text>
<line x1="301.25" y1="873.85" x2="303.75" y2="873.85" stroke="#989898" stroke-width="1" />
<text x="294.30" y="876.85" font-size="11" text-anchor="middle" font-weight="normal" fill="#222" textLength="12.80" lengthAdjust="spacingAndGlyphs"  stroke="#222" stroke-width="0.18">10</text>
<line x1="301.25" y1="856.95" x2="303.75" y2="856.95" stroke="#989898" stroke-width="1" />
<text x="294.30" y="859.95" font-size="11" text-anchor="middle" font-weight="normal" fill="#222" textLength="12.80" lengthAdjust="spacingAndGlyphs"  stroke="#222" stroke-width="0.18">20</text>
<line x1="301.25" y1="840.05" x2="303.75" y2="840.05" stroke="#989898" stroke-width="1" />
<text x="294.30" y="843.05" font-size="11" text-anchor="middle" font-weight="normal" fill="#222" textLength="12.80" lengthAdjust="spacingAndGlyphs"  stroke="#222" stroke-width="0.18">30</text>
<line x1="301.25" y1="823.15" x2="303.75" y2="823.15" stroke="#989898" stroke-width="1" />
<text x="294.30" y="826.15" font-size="11" text-anchor="middle" font-weight="normal" fill="#222" textLength="12.80" lengthAdjust="spacingAndGlyphs"  stroke="#222" stroke-width="0.18">40</text>
<line x1="301.25" y1="806.25" x2="303.75" y2="806.25" stroke="#989898" stroke-width="1" />
<text x="294.30" y="809.25" font-size="11" text-anchor="middle" font-weight="normal" fill="#222" textLength="12.80" lengthAdjust="spacingAndGlyphs"  stroke="#222" stroke-width="0.18">50</text>
<line x1="301.25" y1="789.35" x2="303.75" y2="789.35" stroke="#989898" stroke-width="1" />
<text x="294.30" y="792.35" font-size="11" text-anchor="middle" font-weight="normal" fill="#222" textLength="12.80" lengthAdjust="spacingAndGlyphs"  stroke="#222" stroke-width="0.18">60</text>
<line x1="301.25" y1="772.45" x2="303.75" y2="772.45" stroke="#989898" stroke-width="1" />
<text x="294.30" y="775.45" font-size="11" text-anchor="middle" font-weight="normal" fill="#222" textLength="12.80" lengthAdjust="spacingAndGlyphs"  stroke="#222" stroke-width="0.18">70</text>
<line x1="301.25" y1="755.55" x2="303.75" y2="755.55" stroke="#989898" stroke-width="1" />
<text x="294.30" y="758.55" font-size="11" text-anchor="middle" font-weight="normal" fill="#222" textLength="12.80" lengthAdjust="spacingAndGlyphs"  stroke="#222" stroke-width="0.18">80</text>
<line x1="303.75" y1="890.75" x2="303.75" y2="893.25" stroke="#989898" stroke-width="1" />
<line x1="327.67" y1="890.75" x2="327.67" y2="893.25" stroke="#989898" stroke-width="1" />
<line x1="351.58" y1="890.75" x2="351.58" y2="893.25" stroke="#989898" stroke-width="1" />
<line x1="375.50" y1="890.75" x2="375.50" y2="893.25" stroke="#989898" stroke-width="1" />
<line x1="399.42" y1="890.75" x2="399.42" y2="893.25" stroke="#989898" stroke-width="1" />
<line x1="423.33" y1="890.75" x2="423.33" y2="893.25" stroke="#989898" stroke-width="1" />
<line x1="447.25" y1="890.75" x2="447.25" y2="893.25" stroke="#989898" stroke-width="1" />
<line x1="471.17" y1="890.75" x2="471.17" y2="893.25" stroke="#989898" stroke-width="1" />
<line x1="495.08" y1="890.75" x2="495.08" y2="893.25" stroke="#989898" stroke-width="1" />
<line x1="519.00" y1="890.75" x2="519.00" y2="893.25" stroke="#989898" stroke-width="1" />
<line x1="312.10" y1="799.25" x2="312.10" y2="814.25" stroke="#8a8a8a" stroke-width="0.7" />
<line x1="310.10" y1="799.25" x2="314.10" y2="799.25" stroke="#8a8a8a" stroke-width="0.7" />
<rect x="307.95" y="814.25" width="8.30" height="76.50" fill="#1a1a1a" stroke="#1a1a1a" stroke-width="1.0"/>
<line x1="320.40" y1="771.25" x2="320.40" y2="811.25" stroke="#8a8a8a" stroke-width="0.7" />
<line x1="318.40" y1="771.25" x2="322.40" y2="771.25" stroke="#8a8a8a" stroke-width="0.7" />
<rect x="316.25" y="811.25" width="8.30" height="79.50" fill="#858585" stroke="#1a1a1a" stroke-width="1.0"/>
<line x1="336.00" y1="806.75" x2="336.00" y2="834.50" stroke="#8a8a8a" stroke-width="0.7" />
<line x1="334.00" y1="806.75" x2="338.00" y2="806.75" stroke="#8a8a8a" stroke-width="0.7" />
<rect x="331.85" y="834.50" width="8.30" height="56.25" fill="#1a1a1a" stroke="#1a1a1a" stroke-width="1.0"/>
<line x1="344.30" y1="809.50" x2="344.30" y2="841.75" stroke="#8a8a8a" stroke-width="0.7" />
<line x1="342.30" y1="809.50" x2="346.30" y2="809.50" stroke="#8a8a8a" stroke-width="0.7" />
<rect x="340.15" y="841.75" width="8.30" height="49.00" fill="#858585" stroke="#1a1a1a" stroke-width="1.0"/>
<line x1="359.90" y1="849.50" x2="359.90" y2="870.75" stroke="#8a8a8a" stroke-width="0.7" />
<line x1="357.90" y1="849.50" x2="361.90" y2="849.50" stroke="#8a8a8a" stroke-width="0.7" />
<rect x="355.75" y="870.75" width="8.30" height="20.00" fill="#1a1a1a" stroke="#1a1a1a" stroke-width="1.0"/>
<line x1="368.20" y1="825.50" x2="368.20" y2="860.25" stroke="#8a8a8a" stroke-width="0.7" />
<line x1="366.20" y1="825.50" x2="370.20" y2="825.50" stroke="#8a8a8a" stroke-width="0.7" />
<rect x="364.05" y="860.25" width="8.30" height="30.50" fill="#858585" stroke="#1a1a1a" stroke-width="1.0"/>
<line x1="383.80" y1="852.25" x2="383.80" y2="864.75" stroke="#8a8a8a" stroke-width="0.7" />
<line x1="381.80" y1="852.25" x2="385.80" y2="852.25" stroke="#8a8a8a" stroke-width="0.7" />
<rect x="379.65" y="864.75" width="8.30" height="26.00" fill="#1a1a1a" stroke="#1a1a1a" stroke-width="1.0"/>
<line x1="392.10" y1="851.75" x2="392.10" y2="865.75" stroke="#8a8a8a" stroke-width="0.7" />
<line x1="390.10" y1="851.75" x2="394.10" y2="851.75" stroke="#8a8a8a" stroke-width="0.7" />
<rect x="387.95" y="865.75" width="8.30" height="25.00" fill="#858585" stroke="#1a1a1a" stroke-width="1.0"/>
<line x1="407.70" y1="867.25" x2="407.70" y2="871.00" stroke="#8a8a8a" stroke-width="0.7" />
<line x1="405.70" y1="867.25" x2="409.70" y2="867.25" stroke="#8a8a8a" stroke-width="0.7" />
<rect x="403.55" y="871.00" width="8.30" height="19.75" fill="#1a1a1a" stroke="#1a1a1a" stroke-width="1.0"/>
<line x1="416.00" y1="866.00" x2="416.00" y2="873.25" stroke="#8a8a8a" stroke-width="0.7" />
<line x1="414.00" y1="866.00" x2="418.00" y2="866.00" stroke="#8a8a8a" stroke-width="0.7" />
<rect x="411.85" y="873.25" width="8.30" height="17.50" fill="#858585" stroke="#1a1a1a" stroke-width="1.0"/>
<line x1="431.60" y1="889.50" x2="431.60" y2="890.40" stroke="#8a8a8a" stroke-width="0.7" />
<line x1="429.60" y1="889.50" x2="433.60" y2="889.50" stroke="#8a8a8a" stroke-width="0.7" />
<rect x="427.45" y="889.90" width="8.30" height="0.85" fill="#999"/>
<line x1="439.90" y1="889.50" x2="439.90" y2="890.40" stroke="#8a8a8a" stroke-width="0.7" />
<line x1="437.90" y1="889.50" x2="441.90" y2="889.50" stroke="#8a8a8a" stroke-width="0.7" />
<rect x="435.75" y="889.90" width="8.30" height="0.85" fill="#999"/>
<line x1="455.50" y1="879.50" x2="455.50" y2="883.50" stroke="#8a8a8a" stroke-width="0.7" />
<line x1="453.50" y1="879.50" x2="457.50" y2="879.50" stroke="#8a8a8a" stroke-width="0.7" />
<rect x="451.35" y="883.50" width="8.30" height="7.25" fill="#1a1a1a" stroke="#1a1a1a" stroke-width="1.0"/>
<line x1="463.80" y1="873.50" x2="463.80" y2="880.25" stroke="#8a8a8a" stroke-width="0.7" />
<line x1="461.80" y1="873.50" x2="465.80" y2="873.50" stroke="#8a8a8a" stroke-width="0.7" />
<rect x="459.65" y="880.25" width="8.30" height="10.50" fill="#858585" stroke="#1a1a1a" stroke-width="1.0"/>
<line x1="479.40" y1="830.50" x2="479.40" y2="852.25" stroke="#8a8a8a" stroke-width="0.7" />
<line x1="477.40" y1="830.50" x2="481.40" y2="830.50" stroke="#8a8a8a" stroke-width="0.7" />
<rect x="475.25" y="852.25" width="8.30" height="38.50" fill="#1a1a1a" stroke="#1a1a1a" stroke-width="1.0"/>
<line x1="487.70" y1="802.50" x2="487.70" y2="844.50" stroke="#8a8a8a" stroke-width="0.7" />
<line x1="485.70" y1="802.50" x2="489.70" y2="802.50" stroke="#8a8a8a" stroke-width="0.7" />
<rect x="483.55" y="844.50" width="8.30" height="46.25" fill="#858585" stroke="#1a1a1a" stroke-width="1.0"/>
<line x1="503.30" y1="839.50" x2="503.30" y2="868.50" stroke="#8a8a8a" stroke-width="0.7" />
<line x1="501.30" y1="839.50" x2="505.30" y2="839.50" stroke="#8a8a8a" stroke-width="0.7" />
<rect x="499.15" y="868.50" width="8.30" height="22.25" fill="#1a1a1a" stroke="#1a1a1a" stroke-width="1.0"/>
<line x1="511.60" y1="831.25" x2="511.60" y2="864.75" stroke="#8a8a8a" stroke-width="0.7" />
<line x1="509.60" y1="831.25" x2="513.60" y2="831.25" stroke="#8a8a8a" stroke-width="0.7" />
<rect x="507.45" y="864.75" width="8.30" height="26.00" fill="#858585" stroke="#1a1a1a" stroke-width="1.0"/>
<text x="321.25" y="896.45" font-size="10.7" text-anchor="end" font-weight="normal" fill="#111" textLength="27.04" lengthAdjust="spacingAndGlyphs" transform="rotate(-45 321.25 896.45)" >B220+</text>
<text x="345.15" y="896.45" font-size="10.7" text-anchor="end" font-weight="normal" fill="#111" textLength="55.12" lengthAdjust="spacingAndGlyphs" transform="rotate(-45 345.15 896.45)" >B220+ sIgM+</text>
<text x="369.05" y="896.45" font-size="10.7" text-anchor="end" font-weight="normal" fill="#111" textLength="52.52" lengthAdjust="spacingAndGlyphs" transform="rotate(-45 369.05 896.45)" >B220+ sIgM-</text>
<text x="392.95" y="896.45" font-size="10.7" text-anchor="end" font-weight="normal" fill="#111" textLength="25.48" lengthAdjust="spacingAndGlyphs" transform="rotate(-45 392.95 896.45)" >CD3+</text>
<text x="416.85" y="896.45" font-size="10.7" text-anchor="end" font-weight="normal" fill="#111" textLength="44.72" lengthAdjust="spacingAndGlyphs" transform="rotate(-45 416.85 896.45)" >CD4+ CD8-</text>
<text x="440.75" y="896.45" font-size="10.7" text-anchor="end" font-weight="normal" fill="#111" textLength="47.32" lengthAdjust="spacingAndGlyphs" transform="rotate(-45 440.75 896.45)" >CD4+ CD8+</text>
<text x="464.65" y="896.45" font-size="10.7" text-anchor="end" font-weight="normal" fill="#111" textLength="44.72" lengthAdjust="spacingAndGlyphs" transform="rotate(-45 464.65 896.45)" >CD4- CD8+</text>
<text x="488.55" y="896.45" font-size="10.7" text-anchor="end" font-weight="normal" fill="#111" textLength="34.32" lengthAdjust="spacingAndGlyphs" transform="rotate(-45 488.55 896.45)" >Ter119+</text>
<text x="512.45" y="896.45" font-size="10.7" text-anchor="end" font-weight="normal" fill="#111" textLength="52.00" lengthAdjust="spacingAndGlyphs" transform="rotate(-45 512.45 896.45)" >Mac1+ Gr1+</text>
<text x="514.00" y="767.70" font-size="11.5" text-anchor="end" font-weight="normal" fill="#111" textLength="57.50" lengthAdjust="spacingAndGlyphs" >Old Spleen</text>
<polygon points="27.30,557.80 23.85,570.60 30.75,570.60" fill="#1a1a1a"/>
<line x1="27.30" y1="569.60" x2="27.30" y2="776.00" stroke="#1a1a1a" stroke-width="1.8" />
<text x="31.30" y="855.60" font-size="11.8" text-anchor="start" font-weight="normal" fill="#222" textLength="74.00" lengthAdjust="spacingAndGlyphs" transform="rotate(-90 31.30 855.60)"  stroke="#222" stroke-width="0.18">Frequency (%)</text>
</svg>
</body></html>
